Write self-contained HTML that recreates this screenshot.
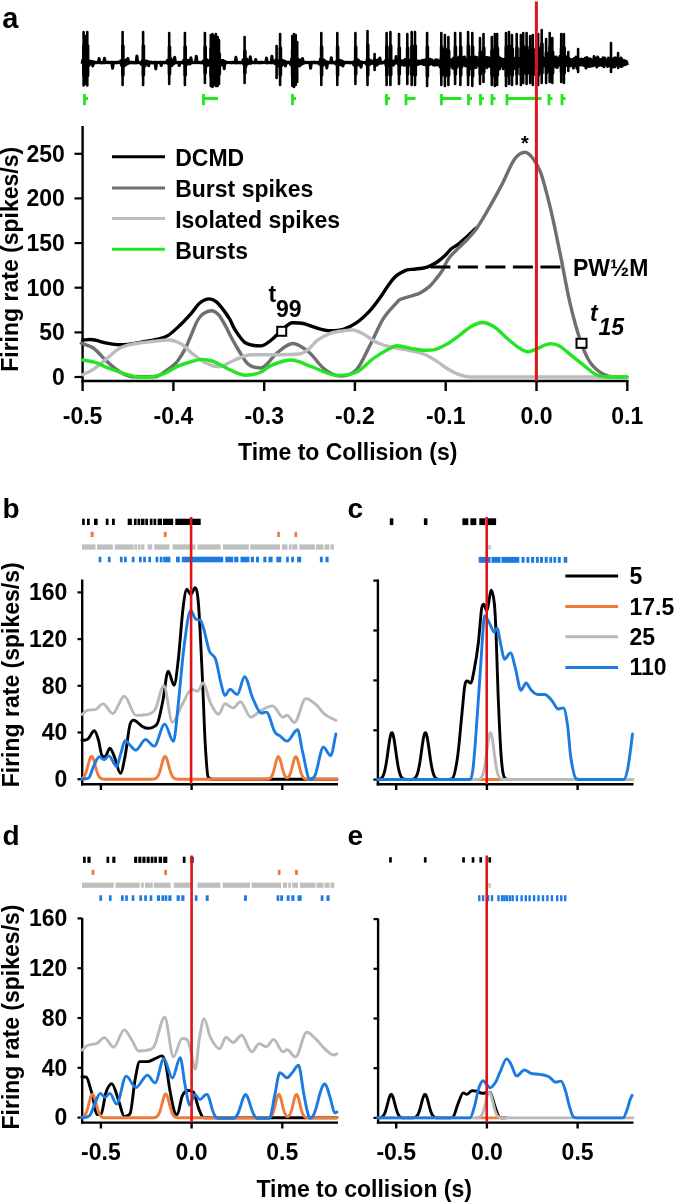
<!DOCTYPE html>
<html><head><meta charset="utf-8"><style>
html,body{margin:0;padding:0;background:#fff;}
svg{display:block;filter:blur(0.35px);}
text{font-family:"Liberation Sans",sans-serif;font-weight:bold;fill:#000;}
</style></head><body>
<svg width="675" height="1203" viewBox="0 0 675 1203">
<text x="2.2" y="27.6" font-size="29" text-anchor="start" >a</text>
<path d="M82,63.8 L82.9,59.7 L83.8,64.2 L84.7,59.4 L85.6,65.1 L86.5,60.8 L87.4,65.4 L88.3,60.8 L89.2,65.2 L90.1,61.1 L91,63.6 L91.9,61.3 L92.8,65.9 L93.7,61.8 L94.6,63.1 L95.5,62.2 L96.4,62.8 L97.3,62.1 L98.2,62.7 L99.1,58.5 L100,62.7 L100.9,62.3 L101.8,62.9 L102.7,62.3 L103.6,62.8 L104.5,58.2 L105.4,62.7 L106.3,62.3 L107.2,62.7 L108.1,62.1 L109,62.8 L109.9,62.3 L110.8,62.8 L111.7,62.2 L112.6,68.3 L113.5,62.3 L114.4,62.8 L115.3,62.2 L116.2,62.9 L117.1,62.1 L118,62.7 L118.9,62.1 L119.8,62.7 L120.7,60.9 L121.6,65.4 L122.5,60.6 L123.4,65.5 L124.3,60.9 L125.2,65.4 L126.1,60 L127,64 L127.9,58.4 L128.8,63.2 L129.7,62 L130.6,62.8 L131.5,62.1 L132.4,62.9 L133.3,62.2 L134.2,62.9 L135.1,62.3 L136,62.9 L136.9,56 L137.8,62.7 L138.7,62.2 L139.6,62.9 L140.5,62.3 L141.4,64.3 L142.3,60.9 L143.2,64.3 L144.1,60.8 L145,66.1 L145.9,61 L146.8,63.9 L147.7,61.4 L148.6,65.8 L149.5,61.9 L150.4,63.1 L151.3,62.1 L152.2,62.9 L153.1,62.3 L154,62.8 L154.9,62.2 L155.8,68.9 L156.7,62.3 L157.6,62.7 L158.5,62.3 L159.4,62.8 L160.3,62.2 L161.2,65.5 L162.1,62.2 L163,62.8 L163.9,62.1 L164.8,62.9 L165.7,62.2 L166.6,62.8 L167.5,60.4 L168.4,63.9 L169.3,58.5 L170.2,66.4 L171.1,58.6 L172,65.6 L172.9,60.9 L173.8,63.7 L174.7,57.3 L175.6,62.8 L176.5,62.2 L177.4,62.7 L178.3,62.2 L179.2,65.5 L180.1,62.3 L181,62.8 L181.9,62.3 L182.8,62.9 L183.7,60.1 L184.6,64.3 L185.5,60.2 L186.4,65 L187.3,60.2 L188.2,63.8 L189.1,60.5 L190,64 L190.9,57.8 L191.8,62.8 L192.7,62.2 L193.6,62.7 L194.5,62.1 L195.4,62.7 L196.3,56.2 L197.2,62.7 L198.1,62.2 L199,62.7 L199.9,62.2 L200.8,62.9 L201.7,62.1 L202.6,62.9 L203.5,60.9 L204.4,64.8 L205.3,60.5 L206.2,66.3 L207.1,59.7 L208,65.3 L208.9,61.1 L209.8,64.2 L210.7,58.9 L211.6,66.9 L212.5,58.6 L213.4,66.4 L214.3,58.7 L215.2,66.2 L216.1,60.4 L217,65.6 L217.9,60 L218.8,64.2 L219.7,60.9 L220.6,64.8 L221.5,60.5 L222.4,64.9 L223.3,60.4 L224.2,68.8 L225.1,61.6 L226,62.9 L226.9,62.2 L227.8,62.7 L228.7,62.3 L229.6,62.7 L230.5,62.2 L231.4,62.9 L232.3,62.1 L233.2,62.8 L234.1,62.2 L235,62.9 L235.9,57.2 L236.8,62.9 L237.7,62.1 L238.6,62.8 L239.5,62.3 L240.4,62.9 L241.3,62.2 L242.2,62.9 L243.1,59.7 L244,64.8 L244.9,59.8 L245.8,66.8 L246.7,59.1 L247.6,64.1 L248.5,61.4 L249.4,63.3 L250.3,56.7 L251.2,63.2 L252.1,61.9 L253,62.8 L253.9,62.2 L254.8,62.8 L255.7,59.5 L256.6,62.8 L257.5,62.2 L258.4,62.9 L259.3,62.2 L260.2,62.9 L261.1,62.1 L262,62.7 L262.9,62.3 L263.8,62.7 L264.7,62.3 L265.6,62.8 L266.5,58 L267.4,62.9 L268.3,62.2 L269.2,62.8 L270.1,62.2 L271,62.9 L271.9,56.3 L272.8,62.8 L273.7,62.2 L274.6,63.4 L275.5,60.4 L276.4,64.4 L277.3,60.9 L278.2,66.3 L279.1,60.7 L280,65.2 L280.9,58.8 L281.8,65.6 L282.7,60.4 L283.6,64.5 L284.5,61 L285.4,65.9 L286.3,62 L287.2,62.9 L288.1,62.1 L289,62.8 L289.9,62.2 L290.8,64.9 L291.7,59 L292.6,65.3 L293.5,59.1 L294.4,65.5 L295.3,59.4 L296.2,66 L297.1,59.6 L298,65.6 L298.9,59.6 L299.8,66.1 L300.7,60.2 L301.6,64.4 L302.5,58.6 L303.4,63.4 L304.3,61.9 L305.2,62.8 L306.1,62.3 L307,62.8 L307.9,62.3 L308.8,62.7 L309.7,62.3 L310.6,68.2 L311.5,62.3 L312.4,62.9 L313.3,62.1 L314.2,62.7 L315.1,62.1 L316,62.9 L316.9,62.3 L317.8,62.9 L318.7,62.2 L319.6,64.3 L320.5,59 L321.4,66.3 L322.3,60.5 L323.2,65.2 L324.1,60.1 L325,64 L325.9,61.6 L326.8,68 L327.7,61.9 L328.6,62.9 L329.5,62.3 L330.4,62.8 L331.3,57.7 L332.2,62.9 L333.1,62.1 L334,62.9 L334.9,62.3 L335.8,64 L336.7,61.1 L337.6,66.2 L338.5,60.1 L339.4,64.3 L340.3,60.4 L341.2,64.9 L342.1,61 L343,66 L343.9,61.9 L344.8,63 L345.7,62.3 L346.6,62.7 L347.5,62.1 L348.4,62.8 L349.3,62.3 L350.2,62.9 L351.1,62.2 L352,62.9 L352.9,62.3 L353.8,65 L354.7,61.1 L355.6,66.4 L356.5,59.6 L357.4,64.9 L358.3,60 L359.2,65 L360.1,61.6 L361,67.3 L361.9,62.1 L362.8,62.8 L363.7,62.3 L364.6,62.7 L365.5,62.3 L366.4,64.3 L367.3,59.1 L368.2,64.9 L369.1,59.5 L370,64.3 L370.9,60.8 L371.8,63.3 L372.7,61.2 L373.6,63.7 L374.5,59.1 L375.4,65.7 L376.3,60.4 L377.2,65 L378.1,59.7 L379,63.4 L379.9,58 L380.8,63.3 L381.7,62.1 L382.6,62.9 L383.5,62.1 L384.4,62.9 L385.3,60.7 L386.2,66 L387.1,58.9 L388,65.9 L388.9,60.1 L389.8,64.7 L390.7,60.8 L391.6,64.4 L392.5,60.9 L393.4,65.3 L394.3,61.2 L395.2,63.3 L396.1,56.6 L397,63.1 L397.9,60.7 L398.8,64.6 L399.7,60.1 L400.6,65.3 L401.5,60.8 L402.4,64.4 L403.3,60.9 L404.2,65.4 L405.1,59.6 L406,64.7 L406.9,60.5 L407.8,66.8 L408.7,60 L409.6,64.8 L410.5,61.4 L411.4,64.9 L412.3,59.6 L413.2,65.5 L414.1,60.6 L415,65.3 L415.9,60.9 L416.8,64.7 L417.7,61 L418.6,64.3 L419.5,61.4 L420.4,63.6 L421.3,60.9 L422.2,64 L423.1,60.3 L424,64.6 L424.9,60 L425.8,64.9 L426.7,59.3 L427.6,66.6 L428.5,59.8 L429.4,64.7 L430.3,59.3 L431.2,63.8 L432.1,60 L433,64.8 L433.9,61.4 L434.8,65.2 L435.7,59.7 L436.6,64.8 L437.5,60 L438.4,65.1 L439.3,61.2 L440.2,67 L441.1,58.1 L442,68.3 L442.9,56.8 L443.8,68.3 L444.7,57.8 L445.6,68.5 L446.5,57.3 L447.4,67.7 L448.3,59.3 L449.2,64.9 L450.1,59.7 L451,66.3 L451.9,59.8 L452.8,68.3 L453.7,57.9 L454.6,67.4 L455.5,57.6 L456.4,67.7 L457.3,58.2 L458.2,64.8 L459.1,56.9 L460,67.9 L460.9,58.1 L461.8,67 L462.7,57.4 L463.6,65.1 L464.5,57.1 L465.4,65.8 L466.3,59.9 L467.2,65.9 L468.1,57.1 L469,65.6 L469.9,57.1 L470.8,68.9 L471.7,58.1 L472.6,66.4 L473.5,58.2 L474.4,67.7 L475.3,57 L476.2,67.4 L477.1,57.5 L478,65.1 L478.9,59.6 L479.8,65.8 L480.7,57.1 L481.6,66.1 L482.5,57.8 L483.4,64.8 L484.3,60 L485.2,65.9 L486.1,57.4 L487,67.7 L487.9,57.4 L488.8,66 L489.7,58 L490.6,66.7 L491.5,58.3 L492.4,65.3 L493.3,56.4 L494.2,65.6 L495.1,56.1 L496,68.7 L496.9,60.2 L497.8,66.7 L498.7,56.8 L499.6,68.9 L500.5,58.3 L501.4,65.9 L502.3,59.3 L503.2,68.8 L504.1,59.3 L505,67.2 L505.9,59.6 L506.8,67 L507.7,56.2 L508.6,65.3 L509.5,56.8 L510.4,66.9 L511.3,56.5 L512.2,67.7 L513.1,59.2 L514,68.6 L514.9,58.2 L515.8,64.9 L516.7,60.2 L517.6,66.9 L518.5,58.3 L519.4,66.1 L520.3,59.6 L521.2,66.2 L522.1,58.9 L523,68.3 L523.9,60.2 L524.8,67.9 L525.7,56.7 L526.6,65.3 L527.5,56.3 L528.4,67.8 L529.3,56.4 L530.2,66 L531.1,58.7 L532,66.4 L532.9,56 L533.8,67.3 L534.7,58.7 L535.6,66.6 L536.5,59.1 L537.4,65 L538.3,59.8 L539.2,68.3 L540.1,59 L541,68.7 L541.9,59.2 L542.8,65.9 L543.7,58.1 L544.6,65.6 L545.5,58.6 L546.4,68.8 L547.3,56.5 L548.2,68.2 L549.1,57.6 L550,68.6 L550.9,56.3 L551.8,67.1 L552.7,57.2 L553.6,65 L554.5,57.1 L555.4,66.7 L556.3,57 L557.2,67.5 L558.1,59 L559,65 L559.9,56.3 L560.8,65.3 L561.7,58.2 L562.6,66.2 L563.5,59 L564.4,67.9 L565.3,56.1 L566.2,65.6 L567.1,57.8 L568,65.8 L568.9,58.2 L569.8,66.1 L570.7,59.7 L571.6,65.2 L572.5,59.6 L573.4,68.1 L574.3,58.5 L575.2,65.5 L576.1,56.9 L577,68.5 L577.9,58.6 L578.8,65.1 L579.7,59.6 L580.6,65 L581.5,59.1 L582.4,65 L583.3,59.5 L584.2,65.6 L585.1,58.2 L586,68.1 L586.9,57.5 L587.8,66.2 L588.7,58.8 L589.6,66.6 L590.5,58.9 L591.4,65.9 L592.3,60.2 L593.2,65.7 L594.1,56.6 L595,65.1 L595.9,58.4 L596.8,67.1 L597.7,57 L598.6,65.4 L599.5,59.3 L600.4,65 L601.3,59.6 L602.2,65.6 L603.1,57.8 L604,66.8 L604.9,58.1 L605.8,64.2 L606.7,60.7 L607.6,66.4 L608.5,58 L609.4,65.7 L610.3,59 L611.2,64.2 L612.1,59.6 L613,67.1 L613.9,58.2 L614.8,66.8 L615.7,57.8 L616.6,65 L617.5,60.5 L618.4,64.7 L619.3,59.2 L620.2,66.3 L621.1,57.9 L622,66.4 L622.9,60.2 L623.8,65 L624.7,60.6 L625.6,64.6 L626.5,61.4 L627.4,65.1" fill="none" stroke="#000" stroke-width="3.0" stroke-linejoin="round"/>
<path d="M83.6,32V85.5M85.3,36V84M87.3,32V85.5M122.6,32V85M143.1,32V85M169.2,33V84M184.9,33V85M204.9,33V83M210.8,35V86M212.5,34V87M214.2,36V85M215.9,34V86M217.6,37V86M219,40V84M244.6,37V83M276.6,46V78M280.1,34V85M292.3,36V86M294,34V87M295.7,35V85M297.2,42V82M321.3,33V85M337.3,33V85M355.4,33V84M367.5,31V85M374.6,54V70M386.6,33V85M390.4,32V85M399,34V84M407.3,34V84M411.7,32V85M415,32V85M427.1,33V86M441.3,33V85M444.9,35V86M448.4,37V85M455.1,33V84M460.4,33V85M468.1,32V85M472.3,33V86M480,38V84M483.5,34V82M491.8,37V85M494.8,34V86M497.1,34V85M506,33V86M509,32V84M512,35V85M516.7,34V84M520.9,35V85M523.2,33V83M526.6,33V84M530.1,36V83M532.8,35V85M538.1,34V85M541.7,30V83M546.1,39V83M549.7,33V82M552.3,38V83M561.2,34V82M563.9,34V83M568.3,52V71M578.1,49V72M611,43V72M618.1,53V68" stroke="#000" stroke-width="2.6" stroke-linecap="round"/>
<path d="M83.9,46V75.5M85.6,50V74M87.6,46V75.5M122.9,46V75M143.4,46V75M169.5,47V74M185.2,47V75M205.2,47V73M211.1,49V76M212.8,48V77M214.5,50V75M216.2,48V76M217.9,51V76M219.3,54V74M244.9,51V73M280.4,48V75M292.6,50V76M294.3,48V77M296,49V75M321.6,47V75M337.6,47V75M355.7,47V74M367.8,45V75M386.9,47V75M390.7,46V75M399.3,48V74M407.6,48V74M412,46V75M415.3,46V75M427.4,47V76M441.6,47V75M445.2,49V76M448.7,51V75M455.4,47V74M460.7,47V75M468.4,46V75M472.6,47V76M480.3,52V74M483.8,48V72M492.1,51V75M495.1,48V76M497.4,48V75M506.3,47V76M509.3,46V74M512.3,49V75M517,48V74M521.2,49V75M523.5,47V73M526.9,47V74M530.4,50V73M533.1,49V75M538.4,48V75M542,44V73M546.4,53V73M550,47V72M552.6,52V73M561.5,48V72M564.2,48V73" stroke="#000" stroke-width="3.6" stroke-linecap="round"/>
<path d="M84.5,94V105.3M84.5,98.5H88M203.5,94V105.3M203.5,98.5H218M292.5,94V105.3M292.5,98.5H296M386.5,94V105.3M386.5,98.5H390M406,94V105.3M406,98.5H415.5M441.5,94V105.3M441.5,98.5H461.5M468.5,94V105.3M468.5,98.5H472M480.5,94V105.3M480.5,98.5H484M492,94V105.3M492,98.5H495.5M507,94V105.3M507,98.5H541.5M549,94V105.3M549,98.5H552.5M562,94V105.3M562,98.5H565.5" stroke="#22e622" stroke-width="2.8" fill="none"/>
<line x1="82.6" y1="126" x2="82.6" y2="382.2" stroke="#000" stroke-width="2.4" />
<line x1="81.4" y1="381" x2="628.5" y2="381" stroke="#000" stroke-width="2.4" />
<line x1="74.5" y1="377" x2="82.6" y2="377" stroke="#000" stroke-width="2.2" />
<text x="64.8" y="385" font-size="23" text-anchor="end" >0</text>
<line x1="74.5" y1="332.4" x2="82.6" y2="332.4" stroke="#000" stroke-width="2.2" />
<text x="64.8" y="340.4" font-size="23" text-anchor="end" >50</text>
<line x1="74.5" y1="287.7" x2="82.6" y2="287.7" stroke="#000" stroke-width="2.2" />
<text x="64.8" y="295.7" font-size="23" text-anchor="end" >100</text>
<line x1="74.5" y1="243.1" x2="82.6" y2="243.1" stroke="#000" stroke-width="2.2" />
<text x="64.8" y="251.1" font-size="23" text-anchor="end" >150</text>
<line x1="74.5" y1="198.4" x2="82.6" y2="198.4" stroke="#000" stroke-width="2.2" />
<text x="64.8" y="206.4" font-size="23" text-anchor="end" >200</text>
<line x1="74.5" y1="153.8" x2="82.6" y2="153.8" stroke="#000" stroke-width="2.2" />
<text x="64.8" y="161.8" font-size="23" text-anchor="end" >250</text>
<line x1="82.6" y1="381" x2="82.6" y2="391" stroke="#000" stroke-width="2.4" />
<text x="82.6" y="424" font-size="23" text-anchor="middle" >-0.5</text>
<line x1="173.4" y1="381" x2="173.4" y2="391" stroke="#000" stroke-width="2.4" />
<text x="173.4" y="424" font-size="23" text-anchor="middle" >-0.4</text>
<line x1="264.2" y1="381" x2="264.2" y2="391" stroke="#000" stroke-width="2.4" />
<text x="264.2" y="424" font-size="23" text-anchor="middle" >-0.3</text>
<line x1="354.9" y1="381" x2="354.9" y2="391" stroke="#000" stroke-width="2.4" />
<text x="354.9" y="424" font-size="23" text-anchor="middle" >-0.2</text>
<line x1="445.7" y1="381" x2="445.7" y2="391" stroke="#000" stroke-width="2.4" />
<text x="445.7" y="424" font-size="23" text-anchor="middle" >-0.1</text>
<line x1="536.5" y1="381" x2="536.5" y2="391" stroke="#000" stroke-width="2.4" />
<text x="536.5" y="424" font-size="23" text-anchor="middle" >0.0</text>
<line x1="627.3" y1="381" x2="627.3" y2="391" stroke="#000" stroke-width="2.4" />
<text x="627.3" y="424" font-size="23" text-anchor="middle" >0.1</text>
<text x="347.7" y="460" font-size="23" text-anchor="middle" >Time to Collision (s)</text>
<text x="0" y="0" font-size="23" text-anchor="middle" transform="translate(18.0,259.3) rotate(-90)">Firing rate (spikes/s)</text>
<line x1="112" y1="156.7" x2="165" y2="156.7" stroke="#000" stroke-width="3.0" />
<text x="175.2" y="165.9" font-size="23" text-anchor="start" >DCMD</text>
<line x1="112" y1="188.1" x2="165" y2="188.1" stroke="#6f6f6f" stroke-width="3.0" />
<text x="175.2" y="197.3" font-size="23" text-anchor="start" >Burst spikes</text>
<line x1="112" y1="218.5" x2="165" y2="218.5" stroke="#bcbcbc" stroke-width="3.0" />
<text x="175.2" y="227.7" font-size="23" text-anchor="start" >Isolated spikes</text>
<line x1="112" y1="249.3" x2="165" y2="249.3" stroke="#22e622" stroke-width="3.0" />
<text x="175.2" y="258.5" font-size="23" text-anchor="start" >Bursts</text>
<path d="M82.7,340C85.4,339.8 88,339.5 90.7,339.5C96,339.5 101.4,342.2 106.7,343.2C111.1,344 115.6,344.8 120,344.8C128.9,344.8 137.8,342.6 146.7,341.3C150.2,340.8 153.6,340.1 157.1,339.2C160.7,338.2 164.2,337.8 167.8,335.6C171.7,333.2 175.7,329.3 179.6,325.6C183.6,321.8 187.5,317.5 191.5,313.1C194.3,310 197,305.2 199.8,303C203,300.5 206.1,298.9 209.3,298.9C211.7,298.9 214,300 216.4,301.9C218.8,303.8 221.1,307 223.5,310.1C225.7,312.9 227.8,315.9 230,319.6C231.6,322.3 233.1,326.9 234.7,329.3C238.2,334.6 241.8,340.5 245.3,342.7C250.4,345.9 255.6,345.9 260.7,345.9C264.2,345.9 267.8,342.7 271.3,340C274.9,337.3 278.4,332.8 282,329.9C285.6,327 289.1,322.7 292.7,322.7C296.2,322.7 299.8,322.7 303.3,323.5C307.8,324.5 312.2,326.8 316.7,328C321.1,329.2 325.6,330.7 330,330.7C334.4,330.7 338.9,330.6 343.3,329.3C347.8,328 352.2,325.8 356.7,322.7C361.1,319.6 365.6,315.4 370,310.7C373.3,307.1 376.7,302.4 380,297.8C383,293.7 385.9,288.5 388.9,284.4C390.9,281.6 393,279 395,277C396.7,275.3 398.3,274.3 400,273.3C402.4,271.9 404.7,270.4 407.1,269.8C409.5,269.2 411.8,269.5 414.2,269.2C417.4,268.9 420.5,268.7 423.7,268C426.1,267.5 428.4,266.7 430.8,265.6C433.2,264.5 435.5,263.2 437.9,261.5C440.3,259.8 442.6,257.9 445,255.6C447,253.7 449,250.7 451,249C453.4,247 455.7,246.1 458.1,244.3C460.9,242.2 463.6,239.7 466.4,237.2C469.6,234.4 472.7,231.3 475.9,228.3" fill="none" stroke="#000" stroke-width="3.4" stroke-linejoin="round" stroke-linecap="round" />
<path d="M81.3,343.2C85.3,344.8 89.3,345.1 93.3,348C97.8,351.2 102.2,357.3 106.7,361.3C111.1,365.3 115.6,369.4 120,372C124.4,374.6 128.9,376.8 133.3,376.8C140.4,376.8 147.6,376.8 154.7,376.8C159.1,376.8 163.6,372.2 168,369.3C170.7,367.6 173.3,365.7 176,363C177.7,361.3 179.3,358.6 181,356C182.5,353.6 184.1,351.1 185.6,348C187.4,344.3 189.2,339.6 191,335.5C193.1,330.6 195.3,324.6 197.4,320.8C199.4,317.3 201.3,315.1 203.3,313.7C206.1,311.7 208.8,310.7 211.6,310.7C214,310.7 216.3,312.3 218.7,314.9C221.1,317.6 223.5,322.4 225.9,326.7C227.3,329.1 228.6,332.4 230,335C232.4,339.5 234.9,344.1 237.3,348C240.9,353.7 244.4,361 248,364C252.2,367.6 256.5,368 260.7,368C266,368 271.4,357.4 276.7,353.3C282,349.2 287.4,343.5 292.7,343.5C298,343.5 303.4,347.7 308.7,352C314,356.3 319.4,365.3 324.7,369.3C330,373.3 335.4,376 340.7,376C346,376 351.4,374.9 356.7,369.3C361.1,364.7 365.6,353.7 370,345.3C374.4,336.9 378.9,325.8 383.3,318.7C387.8,311.6 392.2,307.8 396.7,302.7C397.8,301.4 398.9,300 400,299.5C404,297.7 407.9,297.2 411.9,295.9C414.6,295 417.4,294.4 420.1,292.9C423.3,291.2 426.4,289.2 429.6,286.4C432,284.3 434.3,281.1 436.7,278.1C438.7,275.6 440.7,273.1 442.7,269.8C444.3,267.2 445.8,262.9 447.4,260.3C449,257.7 450.5,256.1 452.1,254.4C454.5,251.8 456.9,249.7 459.3,247.3C462.1,244.6 464.8,242 467.6,239C470.4,236 473.1,233.3 475.9,229.5C479,225.2 482.1,220 485.2,214.7C490.6,205.3 496.1,195.7 501.5,185.4C505.8,177.2 510.2,165.4 514.5,159.3C518,154.4 521.5,152.2 525,152.2C527.5,152.2 529.9,154.5 532.4,157.7C535.1,161.2 537.9,164.7 540.6,172.4C543.9,181.6 547.1,194.6 550.4,208.2C553.7,221.8 556.9,238.1 560.2,253.9C563.4,269.6 566.7,288.7 569.9,302.7C573.2,316.9 576.4,328.8 579.7,338.6C583,348.4 586.2,356.4 589.5,361.4C593.8,368.1 598.2,371.2 602.5,373.8C606.9,376.4 611.2,377 615.6,377C619.4,377 623.2,377 627,377" fill="none" stroke="#6f6f6f" stroke-width="3.4" stroke-linejoin="round" stroke-linecap="round" />
<path d="M82.7,374.7C86.2,372.9 89.8,371.7 93.3,369.3C97.8,366.3 102.2,362.3 106.7,358.7C111.1,355.2 115.6,350.4 120,348C124.4,345.6 128.9,344.9 133.3,344C140.4,342.6 147.6,342.1 154.7,341.3C159.1,340.8 163.6,340 168,340C172.4,340 176.9,341.5 181.3,344C184.9,346 188.4,350.5 192,353.3C196.4,356.8 200.9,360.5 205.3,362.7C209.8,364.9 214.2,366.7 218.7,366.7C224,366.7 229.4,362 234.7,360C240,358 245.4,354.7 250.7,354.7C259.4,354.7 268,354.7 276.7,354.7C284.1,354.7 291.6,354.7 299,354C302,353.7 305.1,351.8 308.1,349.6C311.1,347.4 314,342.9 317,340.7C321.3,337.5 325.7,335 330,333.5C335.6,331.6 341.1,331.3 346.7,330.4C348.7,330.1 350.6,330 352.6,330C356.6,330 360.7,332.6 364.7,334.7C367.6,336.2 370.4,339.2 373.3,340.7C377.2,342.8 381.1,344.3 385,345.5C389,346.7 393,347.2 397,348C401.3,348.9 405.7,349.5 410,350.5C414.6,351.5 419.1,352.2 423.7,354C427.6,355.5 431.6,358 435.5,360.4C439.5,362.9 443.4,366.3 447.4,368.7C451.3,371.1 455.3,373.2 459.2,374.6C463.2,376 467.1,377 471.1,377C523.1,377 575,377 627,377" fill="none" stroke="#bcbcbc" stroke-width="3.4" stroke-linejoin="round" stroke-linecap="round" />
<path d="M82.7,360C87.1,360.9 91.6,361.3 96,362.7C100,364 104,366.4 108,368C111.8,369.5 115.5,370.7 119.3,371.9C124.2,373.5 129.1,375.3 134,376.3C138,377.1 142,377.2 146,377.2C150.9,377.2 155.8,376.2 160.7,374.8C163.8,373.9 166.9,372.1 170,370.5C172.8,369.1 175.7,367.1 178.5,365.9C183,364.1 187.5,362.7 192,361.5C195.4,360.6 198.8,359.4 202.2,359.4C205.5,359.4 208.7,360.1 212,361C214.2,361.6 216.5,362.9 218.7,364C224,366.6 229.4,369.8 234.7,372C238.2,373.5 241.8,375.2 245.3,375.2C250.2,375.2 255.1,374.4 260,372.5C263.8,371.1 267.5,366.8 271.3,365.3C278,362.6 284.6,360 291.3,360C298,360 304.6,364.5 311.3,366.7C320.1,369.6 329,375.4 337.8,375.4C344.1,375.4 350.4,375 356.7,372C362.2,369.4 367.8,362.5 373.3,358.5C377.9,355.2 382.4,352.4 387,350C390.3,348.2 393.7,345.8 397,345.8C401.9,345.8 406.9,347.8 411.8,348.6C415.8,349.3 419.7,350.2 423.7,350.2C427.6,350.2 431.6,350.2 435.5,349.3C439.5,348.4 443.4,346.1 447.4,343.8C451.3,341.5 455.3,338.4 459.2,335.5C463.2,332.6 467.1,328.7 471.1,326.5C475,324.3 479,322.5 482.9,322.5C486.9,322.5 490.8,324.7 494.8,327.3C498.7,329.9 502.7,334.6 506.6,337.9C510.6,341.3 514.5,344.8 518.5,347.4C521.7,349.4 524.8,351.7 528,351.7C531.1,351.7 534.3,349.8 537.4,348.6C539.9,347.6 542.5,345.9 545,345C547.2,344.3 549.5,343.8 551.7,343.8C554.5,343.8 557.2,344.8 560,346.2C562.2,347.4 564.5,349.8 566.7,351.6C572.1,356 577.6,360.5 583,364.7C587.3,368.1 591.7,372.4 596,374.5C600.3,376.6 604.7,377 609,377C615,377 621,377 627,377" fill="none" stroke="#22e622" stroke-width="3.4" stroke-linejoin="round" stroke-linecap="round" />
<line x1="430.4" y1="267" x2="562" y2="267" stroke="#000" stroke-width="3.0" stroke-dasharray="20 7.5"/>
<text x="573" y="275.5" font-size="23" text-anchor="start" >PW½M</text>
<text x="525" y="150" font-size="20" text-anchor="middle" >*</text>
<rect x="277.2" y="326.8" width="9" height="9" fill="#fff" stroke="#000" stroke-width="2"/>
<rect x="576.5" y="338.8" width="10" height="9" fill="#fff" stroke="#000" stroke-width="2"/>
<text x="268.5" y="301.5" font-size="23" text-anchor="start" >t</text>
<text x="276" y="317" font-size="23" text-anchor="start" >99</text>
<text x="590" y="320.5" font-size="23" text-anchor="start" font-style="italic">t</text>
<text x="598.5" y="335" font-size="23" text-anchor="start" font-style="italic">15</text>
<line x1="536.4" y1="1.5" x2="536.4" y2="381" stroke="#e0151a" stroke-width="3.0" />
<text x="2.5" y="518.2" font-size="28" text-anchor="start" >b</text>
<text x="347.5" y="518.2" font-size="28" text-anchor="start" >c</text>
<text x="2.5" y="844.7" font-size="28" text-anchor="start" >d</text>
<text x="347.5" y="844.7" font-size="28" text-anchor="start" >e</text>
<line x1="82.2" y1="579.5" x2="82.2" y2="785.5" stroke="#000" stroke-width="2.4" />
<line x1="81" y1="784.3" x2="338" y2="784.3" stroke="#000" stroke-width="2.4" />
<line x1="77.5" y1="779.2" x2="82.2" y2="779.2" stroke="#000" stroke-width="2.2" />
<text x="67.3" y="787" font-size="23" text-anchor="end" >0</text>
<line x1="77.5" y1="732.5" x2="82.2" y2="732.5" stroke="#000" stroke-width="2.2" />
<text x="67.3" y="740.3" font-size="23" text-anchor="end" >40</text>
<line x1="77.5" y1="685.8" x2="82.2" y2="685.8" stroke="#000" stroke-width="2.2" />
<text x="67.3" y="693.6" font-size="23" text-anchor="end" >80</text>
<line x1="77.5" y1="639.1" x2="82.2" y2="639.1" stroke="#000" stroke-width="2.2" />
<text x="67.3" y="646.9" font-size="23" text-anchor="end" >120</text>
<line x1="77.5" y1="592.4" x2="82.2" y2="592.4" stroke="#000" stroke-width="2.2" />
<text x="67.3" y="600.2" font-size="23" text-anchor="end" >160</text>
<line x1="100.9" y1="784.3" x2="100.9" y2="790" stroke="#000" stroke-width="2.4" />
<line x1="191.6" y1="784.3" x2="191.6" y2="790" stroke="#000" stroke-width="2.4" />
<line x1="282.3" y1="784.3" x2="282.3" y2="790" stroke="#000" stroke-width="2.4" />
<text x="0" y="0" font-size="23" text-anchor="middle" transform="translate(18.9,674.8) rotate(-90)">Firing rate (spikes/s)</text>
<line x1="377.9" y1="579.5" x2="377.9" y2="785.5" stroke="#000" stroke-width="2.4" />
<line x1="376.7" y1="784.3" x2="633.5" y2="784.3" stroke="#000" stroke-width="2.4" />
<line x1="373.3" y1="580.6" x2="377.9" y2="580.6" stroke="#000" stroke-width="2.2" />
<line x1="373.3" y1="630.5" x2="377.9" y2="630.5" stroke="#000" stroke-width="2.2" />
<line x1="373.3" y1="680.4" x2="377.9" y2="680.4" stroke="#000" stroke-width="2.2" />
<line x1="373.3" y1="730.3" x2="377.9" y2="730.3" stroke="#000" stroke-width="2.2" />
<line x1="373.3" y1="779.6" x2="377.9" y2="779.6" stroke="#000" stroke-width="2.2" />
<line x1="396.2" y1="784.3" x2="396.2" y2="790" stroke="#000" stroke-width="2.4" />
<line x1="486.9" y1="784.3" x2="486.9" y2="790" stroke="#000" stroke-width="2.4" />
<line x1="577.6" y1="784.3" x2="577.6" y2="790" stroke="#000" stroke-width="2.4" />
<line x1="82.2" y1="918" x2="82.2" y2="1123.7" stroke="#000" stroke-width="2.4" />
<line x1="81" y1="1122.6" x2="338" y2="1122.6" stroke="#000" stroke-width="2.4" />
<line x1="77.5" y1="1117.6" x2="82.2" y2="1117.6" stroke="#000" stroke-width="2.2" />
<text x="67.3" y="1125.4" font-size="23" text-anchor="end" >0</text>
<line x1="77.5" y1="1067.8" x2="82.2" y2="1067.8" stroke="#000" stroke-width="2.2" />
<text x="67.3" y="1075.6" font-size="23" text-anchor="end" >40</text>
<line x1="77.5" y1="1018" x2="82.2" y2="1018" stroke="#000" stroke-width="2.2" />
<text x="67.3" y="1025.8" font-size="23" text-anchor="end" >80</text>
<line x1="77.5" y1="968.2" x2="82.2" y2="968.2" stroke="#000" stroke-width="2.2" />
<text x="67.3" y="976" font-size="23" text-anchor="end" >120</text>
<line x1="77.5" y1="918.4" x2="82.2" y2="918.4" stroke="#000" stroke-width="2.2" />
<text x="67.3" y="926.2" font-size="23" text-anchor="end" >160</text>
<line x1="100.9" y1="1122.6" x2="100.9" y2="1128.5" stroke="#000" stroke-width="2.4" />
<text x="100.9" y="1159.6" font-size="23" text-anchor="middle" >-0.5</text>
<line x1="191.6" y1="1122.6" x2="191.6" y2="1128.5" stroke="#000" stroke-width="2.4" />
<text x="191.6" y="1159.6" font-size="23" text-anchor="middle" >0.0</text>
<line x1="282.3" y1="1122.6" x2="282.3" y2="1128.5" stroke="#000" stroke-width="2.4" />
<text x="282.3" y="1159.6" font-size="23" text-anchor="middle" >0.5</text>
<text x="0" y="0" font-size="23" text-anchor="middle" transform="translate(19.1,1017) rotate(-90)">Firing rate (spikes/s)</text>
<line x1="378.1" y1="918.5" x2="378.1" y2="1123.7" stroke="#000" stroke-width="2.4" />
<line x1="376.9" y1="1122.6" x2="633.5" y2="1122.6" stroke="#000" stroke-width="2.4" />
<line x1="373.5" y1="919.1" x2="378.1" y2="919.1" stroke="#000" stroke-width="2.2" />
<line x1="373.5" y1="968.8" x2="378.1" y2="968.8" stroke="#000" stroke-width="2.2" />
<line x1="373.5" y1="1018.5" x2="378.1" y2="1018.5" stroke="#000" stroke-width="2.2" />
<line x1="373.5" y1="1068.2" x2="378.1" y2="1068.2" stroke="#000" stroke-width="2.2" />
<line x1="373.5" y1="1117.9" x2="378.1" y2="1117.9" stroke="#000" stroke-width="2.2" />
<line x1="396.2" y1="1122.6" x2="396.2" y2="1128.5" stroke="#000" stroke-width="2.4" />
<text x="396.2" y="1159.6" font-size="23" text-anchor="middle" >-0.5</text>
<line x1="486.9" y1="1122.6" x2="486.9" y2="1128.5" stroke="#000" stroke-width="2.4" />
<text x="486.9" y="1159.6" font-size="23" text-anchor="middle" >0.0</text>
<line x1="577.6" y1="1122.6" x2="577.6" y2="1128.5" stroke="#000" stroke-width="2.4" />
<text x="577.6" y="1159.6" font-size="23" text-anchor="middle" >0.5</text>
<text x="364.2" y="1197.4" font-size="23" text-anchor="middle" >Time to collision (s)</text>
<line x1="565.3" y1="576" x2="618.1" y2="576" stroke="#000" stroke-width="3.0" />
<text x="629.5" y="584" font-size="23" text-anchor="start" >5</text>
<line x1="565.3" y1="606.6" x2="618.1" y2="606.6" stroke="#f07a3c" stroke-width="3.0" />
<text x="629.5" y="614.6" font-size="23" text-anchor="start" >17.5</text>
<line x1="565.3" y1="636.8" x2="618.1" y2="636.8" stroke="#b9b9b9" stroke-width="3.0" />
<text x="629.5" y="644.8" font-size="23" text-anchor="start" >25</text>
<line x1="565.3" y1="667.4" x2="618.1" y2="667.4" stroke="#1b7be0" stroke-width="3.0" />
<text x="629.5" y="675.4" font-size="23" text-anchor="start" >110</text>
<rect x="82.1" y="518.7" width="2.7" height="6.3" fill="#000"/><rect x="87" y="518.7" width="2.7" height="6.3" fill="#000"/><rect x="94" y="518.7" width="3.6" height="6.3" fill="#000"/><rect x="105.8" y="518.7" width="2.7" height="6.3" fill="#000"/><rect x="112" y="518.7" width="2.8" height="6.3" fill="#000"/><rect x="127.7" y="518.7" width="4.2" height="6.3" fill="#000"/><rect x="133.9" y="518.7" width="2.7" height="6.3" fill="#000"/><rect x="137.5" y="518.7" width="2.7" height="6.3" fill="#000"/><rect x="141" y="518.7" width="3.5" height="6.3" fill="#000"/><rect x="145.3" y="518.7" width="2.7" height="6.3" fill="#000"/><rect x="149.8" y="518.7" width="2.7" height="6.3" fill="#000"/><rect x="153.5" y="518.7" width="2.7" height="6.3" fill="#000"/><rect x="157.6" y="518.7" width="4.4" height="6.3" fill="#000"/><rect x="163" y="518.7" width="10.2" height="6.3" fill="#000"/><rect x="175.3" y="518.7" width="25.4" height="6.3" fill="#000"/>
<rect x="90.6" y="531.8" width="3.1" height="5.2" fill="#f07a3c"/><rect x="163.8" y="531.8" width="2.9" height="5.2" fill="#f07a3c"/><rect x="277.2" y="531.8" width="2.7" height="5.2" fill="#f07a3c"/><rect x="294.5" y="531.8" width="2.7" height="5.2" fill="#f07a3c"/>
<rect x="82" y="544.4" width="13.5" height="5.2" fill="#bfbfbf"/><rect x="97" y="544.4" width="15.8" height="5.2" fill="#bfbfbf"/><rect x="114.7" y="544.4" width="18.9" height="5.2" fill="#bfbfbf"/><rect x="134.4" y="544.4" width="2.7" height="5.2" fill="#bfbfbf"/><rect x="137.8" y="544.4" width="2.7" height="5.2" fill="#bfbfbf"/><rect x="141.2" y="544.4" width="3.3" height="5.2" fill="#bfbfbf"/><rect x="147.5" y="544.4" width="4.7" height="5.2" fill="#bfbfbf"/><rect x="154.2" y="544.4" width="15.3" height="5.2" fill="#bfbfbf"/><rect x="172.5" y="544.4" width="23" height="5.2" fill="#bfbfbf"/><rect x="197.5" y="544.4" width="23.2" height="5.2" fill="#bfbfbf"/><rect x="222.9" y="544.4" width="25.9" height="5.2" fill="#bfbfbf"/><rect x="250.3" y="544.4" width="29.7" height="5.2" fill="#bfbfbf"/><rect x="282" y="544.4" width="5.5" height="5.2" fill="#bfbfbf"/><rect x="288.8" y="544.4" width="2.7" height="5.2" fill="#bfbfbf"/><rect x="292.2" y="544.4" width="5.2" height="5.2" fill="#bfbfbf"/><rect x="299.3" y="544.4" width="15.7" height="5.2" fill="#bfbfbf"/><rect x="316" y="544.4" width="7.5" height="5.2" fill="#bfbfbf"/><rect x="324.5" y="544.4" width="5" height="5.2" fill="#bfbfbf"/><rect x="330.5" y="544.4" width="3.5" height="5.2" fill="#bfbfbf"/>
<rect x="98.6" y="556.7" width="2.7" height="5.6" fill="#1b7be0"/><rect x="107.9" y="556.7" width="2.7" height="5.6" fill="#1b7be0"/><rect x="119.9" y="556.7" width="2.7" height="5.6" fill="#1b7be0"/><rect x="124.1" y="556.7" width="2.7" height="5.6" fill="#1b7be0"/><rect x="131.8" y="556.7" width="2.7" height="5.6" fill="#1b7be0"/><rect x="139" y="556.7" width="2.7" height="5.6" fill="#1b7be0"/><rect x="143.2" y="556.7" width="2.7" height="5.6" fill="#1b7be0"/><rect x="148.3" y="556.7" width="2.7" height="5.6" fill="#1b7be0"/><rect x="155.6" y="556.7" width="2.7" height="5.6" fill="#1b7be0"/><rect x="159.8" y="556.7" width="2.7" height="5.6" fill="#1b7be0"/><rect x="163.2" y="556.7" width="7.2" height="5.6" fill="#1b7be0"/><rect x="176" y="556.7" width="3.8" height="5.6" fill="#1b7be0"/><rect x="181.8" y="556.7" width="41.4" height="5.6" fill="#1b7be0"/><rect x="225.3" y="556.7" width="7.9" height="5.6" fill="#1b7be0"/><rect x="234.2" y="556.7" width="4.2" height="5.6" fill="#1b7be0"/><rect x="240.5" y="556.7" width="8.9" height="5.6" fill="#1b7be0"/><rect x="250.8" y="556.7" width="3.2" height="5.6" fill="#1b7be0"/><rect x="256" y="556.7" width="3" height="5.6" fill="#1b7be0"/><rect x="263.3" y="556.7" width="3.1" height="5.6" fill="#1b7be0"/><rect x="268.5" y="556.7" width="4.1" height="5.6" fill="#1b7be0"/><rect x="276.3" y="556.7" width="5" height="5.6" fill="#1b7be0"/><rect x="286.1" y="556.7" width="2.7" height="5.6" fill="#1b7be0"/><rect x="291.2" y="556.7" width="2.7" height="5.6" fill="#1b7be0"/><rect x="297.1" y="556.7" width="4.1" height="5.6" fill="#1b7be0"/><rect x="319.9" y="556.7" width="2.9" height="5.6" fill="#1b7be0"/><rect x="325.5" y="556.7" width="3.1" height="5.6" fill="#1b7be0"/>
<rect x="389.8" y="518.3" width="3.5" height="6.8" fill="#000"/><rect x="423.9" y="518.3" width="3.5" height="6.8" fill="#000"/><rect x="462.4" y="518.3" width="5.9" height="6.8" fill="#000"/><rect x="470.4" y="518.3" width="5.9" height="6.8" fill="#000"/><rect x="479.3" y="518.3" width="5.9" height="6.8" fill="#000"/><rect x="486.7" y="518.3" width="9.4" height="6.8" fill="#000"/>
<rect x="488.1" y="545" width="3" height="4.4" fill="#c8c8c8"/>
<rect x="478.7" y="556.9" width="11.8" height="5.9" fill="#1b7be0"/><rect x="491.5" y="556.9" width="9" height="5.9" fill="#1b7be0"/><rect x="501.5" y="556.9" width="17.8" height="5.9" fill="#1b7be0"/><rect x="521.6" y="556.9" width="3" height="5.9" fill="#1b7be0"/><rect x="526.4" y="556.9" width="2.9" height="5.9" fill="#1b7be0"/><rect x="531.1" y="556.9" width="3" height="5.9" fill="#1b7be0"/><rect x="535.9" y="556.9" width="2.9" height="5.9" fill="#1b7be0"/><rect x="540" y="556.9" width="3" height="5.9" fill="#1b7be0"/><rect x="544.7" y="556.9" width="3" height="5.9" fill="#1b7be0"/><rect x="549.4" y="556.9" width="2.7" height="5.9" fill="#1b7be0"/><rect x="553.4" y="556.9" width="2.7" height="5.9" fill="#1b7be0"/><rect x="557.8" y="556.9" width="2.9" height="5.9" fill="#1b7be0"/><rect x="563.7" y="556.9" width="3.6" height="5.9" fill="#1b7be0"/>
<rect x="83" y="856.7" width="2.7" height="6.2" fill="#000"/><rect x="87.4" y="856.7" width="3.2" height="6.2" fill="#000"/><rect x="106.5" y="856.7" width="2.7" height="6.2" fill="#000"/><rect x="112.3" y="856.7" width="3.1" height="6.2" fill="#000"/><rect x="134.1" y="856.7" width="3.1" height="6.2" fill="#000"/><rect x="138.3" y="856.7" width="3.1" height="6.2" fill="#000"/><rect x="142.4" y="856.7" width="3.1" height="6.2" fill="#000"/><rect x="146.6" y="856.7" width="3.1" height="6.2" fill="#000"/><rect x="150.7" y="856.7" width="2.7" height="6.2" fill="#000"/><rect x="154.2" y="856.7" width="2.7" height="6.2" fill="#000"/><rect x="158.6" y="856.7" width="3.5" height="6.2" fill="#000"/><rect x="163.2" y="856.7" width="4.1" height="6.2" fill="#000"/><rect x="182.8" y="856.7" width="2.7" height="6.2" fill="#000"/><rect x="190.3" y="856.7" width="3.3" height="6.2" fill="#000"/>
<rect x="91.7" y="869.8" width="2.7" height="5.2" fill="#f07a3c"/><rect x="164.3" y="869.8" width="2.7" height="5.2" fill="#f07a3c"/><rect x="277.8" y="869.8" width="2.7" height="5.2" fill="#f07a3c"/><rect x="295" y="869.8" width="2.9" height="5.2" fill="#f07a3c"/>
<rect x="82" y="882.6" width="31.7" height="5.2" fill="#bfbfbf"/><rect x="115.5" y="882.6" width="24.2" height="5.2" fill="#bfbfbf"/><rect x="141.1" y="882.6" width="2.7" height="5.2" fill="#bfbfbf"/><rect x="145" y="882.6" width="4.9" height="5.2" fill="#bfbfbf"/><rect x="150" y="882.6" width="2.7" height="5.2" fill="#bfbfbf"/><rect x="153.7" y="882.6" width="17" height="5.2" fill="#bfbfbf"/><rect x="173.7" y="882.6" width="19.2" height="5.2" fill="#bfbfbf"/><rect x="197.4" y="882.6" width="22.9" height="5.2" fill="#bfbfbf"/><rect x="222.8" y="882.6" width="27.2" height="5.2" fill="#bfbfbf"/><rect x="251.6" y="882.6" width="29.4" height="5.2" fill="#bfbfbf"/><rect x="283" y="882.6" width="4.1" height="5.2" fill="#bfbfbf"/><rect x="288.3" y="882.6" width="2.7" height="5.2" fill="#bfbfbf"/><rect x="292.2" y="882.6" width="5.8" height="5.2" fill="#bfbfbf"/><rect x="300" y="882.6" width="15.5" height="5.2" fill="#bfbfbf"/><rect x="316.5" y="882.6" width="7" height="5.2" fill="#bfbfbf"/><rect x="324.5" y="882.6" width="5" height="5.2" fill="#bfbfbf"/><rect x="330.5" y="882.6" width="3.9" height="5.2" fill="#bfbfbf"/>
<rect x="99.4" y="895.3" width="2.7" height="5.6" fill="#1b7be0"/><rect x="108.9" y="895.3" width="2.7" height="5.6" fill="#1b7be0"/><rect x="121" y="895.3" width="2.7" height="5.6" fill="#1b7be0"/><rect x="125.2" y="895.3" width="2.7" height="5.6" fill="#1b7be0"/><rect x="131.7" y="895.3" width="2.7" height="5.6" fill="#1b7be0"/><rect x="139.4" y="895.3" width="2.7" height="5.6" fill="#1b7be0"/><rect x="144.2" y="895.3" width="2.7" height="5.6" fill="#1b7be0"/><rect x="149.6" y="895.3" width="2.7" height="5.6" fill="#1b7be0"/><rect x="156.9" y="895.3" width="3.1" height="5.6" fill="#1b7be0"/><rect x="161.4" y="895.3" width="2.7" height="5.6" fill="#1b7be0"/><rect x="164.6" y="895.3" width="2.7" height="5.6" fill="#1b7be0"/><rect x="168.3" y="895.3" width="3.2" height="5.6" fill="#1b7be0"/><rect x="176.6" y="895.3" width="3.2" height="5.6" fill="#1b7be0"/><rect x="181.2" y="895.3" width="3.3" height="5.6" fill="#1b7be0"/><rect x="194.8" y="895.3" width="2.7" height="5.6" fill="#1b7be0"/><rect x="205.7" y="895.3" width="3" height="5.6" fill="#1b7be0"/><rect x="244" y="895.3" width="2.9" height="5.6" fill="#1b7be0"/><rect x="276.6" y="895.3" width="2.7" height="5.6" fill="#1b7be0"/><rect x="280.2" y="895.3" width="2.8" height="5.6" fill="#1b7be0"/><rect x="286.7" y="895.3" width="2.9" height="5.6" fill="#1b7be0"/><rect x="291.3" y="895.3" width="3.1" height="5.6" fill="#1b7be0"/><rect x="297.5" y="895.3" width="4.1" height="5.6" fill="#1b7be0"/><rect x="320.7" y="895.3" width="2.7" height="5.6" fill="#1b7be0"/><rect x="326.5" y="895.3" width="3.1" height="5.6" fill="#1b7be0"/>
<rect x="389.1" y="857.2" width="2.7" height="5.4" fill="#000"/><rect x="423.9" y="857.2" width="2.7" height="5.4" fill="#000"/><rect x="462.2" y="857.2" width="2.7" height="5.4" fill="#000"/><rect x="471.7" y="857.2" width="2.7" height="5.4" fill="#000"/><rect x="479.4" y="857.2" width="2.7" height="5.4" fill="#000"/><rect x="488.4" y="857.2" width="2.7" height="5.4" fill="#000"/>
<rect x="488.2" y="883" width="2.7" height="5" fill="#c8c8c8"/>
<rect x="478.1" y="895.2" width="2.4" height="6" fill="#1b7be0"/><rect x="481.9" y="895.2" width="2.4" height="6" fill="#1b7be0"/><rect x="486.9" y="895.2" width="2.4" height="6" fill="#1b7be0"/><rect x="490.8" y="895.2" width="2.4" height="6" fill="#1b7be0"/><rect x="497.3" y="895.2" width="2.4" height="6" fill="#1b7be0"/><rect x="500.9" y="895.2" width="2.4" height="6" fill="#1b7be0"/><rect x="503.2" y="895.2" width="2.4" height="6" fill="#1b7be0"/><rect x="505.6" y="895.2" width="2.4" height="6" fill="#1b7be0"/><rect x="508.6" y="895.2" width="2.4" height="6" fill="#1b7be0"/><rect x="511.5" y="895.2" width="2.4" height="6" fill="#1b7be0"/><rect x="515.7" y="895.2" width="2.4" height="6" fill="#1b7be0"/><rect x="520.4" y="895.2" width="2.4" height="6" fill="#1b7be0"/><rect x="524.6" y="895.2" width="2.4" height="6" fill="#1b7be0"/><rect x="528.4" y="895.2" width="2.4" height="6" fill="#1b7be0"/><rect x="532.9" y="895.2" width="2.4" height="6" fill="#1b7be0"/><rect x="537.3" y="895.2" width="2.4" height="6" fill="#1b7be0"/><rect x="541.8" y="895.2" width="2.4" height="6" fill="#1b7be0"/><rect x="546.2" y="895.2" width="2.4" height="6" fill="#1b7be0"/><rect x="550.7" y="895.2" width="2.4" height="6" fill="#1b7be0"/><rect x="556" y="895.2" width="2.4" height="6" fill="#1b7be0"/><rect x="560.1" y="895.2" width="2.4" height="6" fill="#1b7be0"/><rect x="564" y="895.2" width="2.4" height="6" fill="#1b7be0"/>
<path d="M81.9,740.5C83.8,740 85.8,740.5 87.7,739.1C89.9,737.5 92.2,730.8 94.4,730.8C95.7,730.8 97,735.3 98.3,739.5C99.6,743.6 100.8,754.7 102.1,755.9C103.1,756.8 104,756.8 105,756.8C106.6,756.8 108.3,748.2 109.9,748.2C111.5,748.2 113.1,754 114.7,757.8C116.6,762.3 118.5,773.2 120.4,773.2C122,773.2 123.7,763.2 125.3,754.9C126.9,746.8 128.5,729 130.1,724.1C131.4,720.2 132.6,720.2 133.9,720.2C136.5,720.2 139,724.5 141.6,726C143.5,727.2 145.5,728.3 147.4,728.3C150.6,728.3 153.8,728.3 157,724.1C158.9,721.6 160.9,710.1 162.8,701C164.6,692.5 166.4,671.1 168.2,671.1C170.1,671.1 172.1,685.2 174,685.2C175.4,685.2 176.8,672.4 178.2,660.5C179.8,646.9 181.4,621.6 183,608.5C184.3,597.9 185.6,589.3 186.9,589.3C188.2,589.3 189.4,594.7 190.7,594.7C192.2,594.7 193.7,587.7 195.2,587.7C196.3,587.7 197.4,591 198.5,604.7C199.8,620.4 201,649.7 202.3,675.9C203.3,695.9 204.2,726.5 205.2,743.3C206.2,760.2 207.1,775.4 208.1,777C209.4,779.2 210.7,779.2 212,779.2C253.7,779.2 295.3,779.2 337,779.2" fill="none" stroke="#000" stroke-width="2.9" stroke-linejoin="round" stroke-linecap="round" />
<path d="M82,778.5 L82.5,778.3 L83,777.9 L83.5,777.4 L84,776.7 L84.5,775.9 L85,775 L85.5,773.8 L86,772.4 L86.5,770.8 L87,769.1 L87.5,767.3 L88,765.4 L88.5,763.5 L89,761.6 L89.5,760 L90,758.5 L90.5,757.4 L91,756.7 L91.5,756.4 L92,756.5 L92.5,757.1 L93,758.1 L93.5,759.4 L94,760.9 L94.5,762.7 L95,764.6 L95.5,766.5 L96,768.4 L96.5,770.2 L97,771.8 L97.5,773.2 L98,774.5 L98.5,775.6 L99,776.4 L99.5,777.1 L100,777.7 L100.5,778.1 L101,778.4 L101.5,778.7 L102,778.8 L102.5,779 L103,779 L103.5,779.1 L104,779.1 L104.5,779.2 L105,779.2 L105.5,779.2 L106,779.2 L106.5,779.2 L107,779.2 L107.5,779.2 L108,779.2 L108.5,779.2 L109,779.2 L109.5,779.2 L110,779.2 L110.5,779.2 L111,779.2 L111.5,779.2 L112,779.2 L112.5,779.2 L113,779.2 L113.5,779.2 L114,779.2 L114.5,779.2 L115,779.2 L115.5,779.2 L116,779.2 L116.5,779.2 L117,779.2 L117.5,779.2 L118,779.2 L118.5,779.2 L119,779.2 L119.5,779.2 L120,779.2 L120.5,779.2 L121,779.2 L121.5,779.2 L122,779.2 L122.5,779.2 L123,779.2 L123.5,779.2 L124,779.2 L124.5,779.2 L125,779.2 L125.5,779.2 L126,779.2 L126.5,779.2 L127,779.2 L127.5,779.2 L128,779.2 L128.5,779.2 L129,779.2 L129.5,779.2 L130,779.2 L130.5,779.2 L131,779.2 L131.5,779.2 L132,779.2 L132.5,779.2 L133,779.2 L133.5,779.2 L134,779.2 L134.5,779.2 L135,779.2 L135.5,779.2 L136,779.2 L136.5,779.2 L137,779.2 L137.5,779.2 L138,779.2 L138.5,779.2 L139,779.2 L139.5,779.2 L140,779.2 L140.5,779.2 L141,779.2 L141.5,779.2 L142,779.2 L142.5,779.2 L143,779.2 L143.5,779.2 L144,779.2 L144.5,779.2 L145,779.2 L145.5,779.2 L146,779.2 L146.5,779.2 L147,779.2 L147.5,779.2 L148,779.2 L148.5,779.2 L149,779.2 L149.5,779.2 L150,779.2 L150.5,779.2 L151,779.2 L151.5,779.2 L152,779.2 L152.5,779.2 L153,779.1 L153.5,779.1 L154,779 L154.5,778.9 L155,778.8 L155.5,778.5 L156,778.3 L156.5,777.9 L157,777.4 L157.5,776.7 L158,775.9 L158.5,775 L159,773.8 L159.5,772.4 L160,770.8 L160.5,769.1 L161,767.3 L161.5,765.4 L162,763.5 L162.5,761.6 L163,760 L163.5,758.5 L164,757.4 L164.5,756.7 L165,756.4 L165.5,756.5 L166,757.1 L166.5,758.1 L167,759.4 L167.5,760.9 L168,762.7 L168.5,764.6 L169,766.5 L169.5,768.4 L170,770.2 L170.5,771.8 L171,773.2 L171.5,774.5 L172,775.6 L172.5,776.4 L173,777.1 L173.5,777.7 L174,778.1 L174.5,778.4 L175,778.7 L175.5,778.8 L176,779 L176.5,779 L177,779.1 L177.5,779.1 L178,779.2 L178.5,779.2 L179,779.2 L179.5,779.2 L180,779.2 L180.5,779.2 L181,779.2 L181.5,779.2 L182,779.2 L182.5,779.2 L183,779.2 L183.5,779.2 L184,779.2 L184.5,779.2 L185,779.2 L185.5,779.2 L186,779.2 L186.5,779.2 L187,779.2 L187.5,779.2 L188,779.2 L188.5,779.2 L189,779.2 L189.5,779.2 L190,779.2 L190.5,779.2 L191,779.2 L191.5,779.2 L192,779.2 L192.5,779.2 L193,779.2 L193.5,779.2 L194,779.2 L194.5,779.2 L195,779.2 L195.5,779.2 L196,779.2 L196.5,779.2 L197,779.2 L197.5,779.2 L198,779.2 L198.5,779.2 L199,779.2 L199.5,779.2 L200,779.2 L200.5,779.2 L201,779.2 L201.5,779.2 L202,779.2 L202.5,779.2 L203,779.2 L203.5,779.2 L204,779.2 L204.5,779.2 L205,779.2 L205.5,779.2 L206,779.2 L206.5,779.2 L207,779.2 L207.5,779.2 L208,779.2 L208.5,779.2 L209,779.2 L209.5,779.2 L210,779.2 L210.5,779.2 L211,779.2 L211.5,779.2 L212,779.2 L212.5,779.2 L213,779.2 L213.5,779.2 L214,779.2 L214.5,779.2 L215,779.2 L215.5,779.2 L216,779.2 L216.5,779.2 L217,779.2 L217.5,779.2 L218,779.2 L218.5,779.2 L219,779.2 L219.5,779.2 L220,779.2 L220.5,779.2 L221,779.2 L221.5,779.2 L222,779.2 L222.5,779.2 L223,779.2 L223.5,779.2 L224,779.2 L224.5,779.2 L225,779.2 L225.5,779.2 L226,779.2 L226.5,779.2 L227,779.2 L227.5,779.2 L228,779.2 L228.5,779.2 L229,779.2 L229.5,779.2 L230,779.2 L230.5,779.2 L231,779.2 L231.5,779.2 L232,779.2 L232.5,779.2 L233,779.2 L233.5,779.2 L234,779.2 L234.5,779.2 L235,779.2 L235.5,779.2 L236,779.2 L236.5,779.2 L237,779.2 L237.5,779.2 L238,779.2 L238.5,779.2 L239,779.2 L239.5,779.2 L240,779.2 L240.5,779.2 L241,779.2 L241.5,779.2 L242,779.2 L242.5,779.2 L243,779.2 L243.5,779.2 L244,779.2 L244.5,779.2 L245,779.2 L245.5,779.2 L246,779.2 L246.5,779.2 L247,779.2 L247.5,779.2 L248,779.2 L248.5,779.2 L249,779.2 L249.5,779.2 L250,779.2 L250.5,779.2 L251,779.2 L251.5,779.2 L252,779.2 L252.5,779.2 L253,779.2 L253.5,779.2 L254,779.2 L254.5,779.2 L255,779.2 L255.5,779.2 L256,779.2 L256.5,779.2 L257,779.2 L257.5,779.2 L258,779.2 L258.5,779.2 L259,779.2 L259.5,779.2 L260,779.2 L260.5,779.2 L261,779.2 L261.5,779.2 L262,779.2 L262.5,779.2 L263,779.2 L263.5,779.2 L264,779.2 L264.5,779.2 L265,779.2 L265.5,779.2 L266,779.2 L266.5,779.2 L267,779.1 L267.5,779.1 L268,779 L268.5,779 L269,778.8 L269.5,778.6 L270,778.3 L270.5,777.9 L271,777.4 L271.5,776.7 L272,775.8 L272.5,774.6 L273,773.3 L273.5,771.7 L274,769.9 L274.5,768 L275,766 L275.5,763.9 L276,761.9 L276.5,760.1 L277,758.6 L277.5,757.5 L278,756.9 L278.5,756.7 L279,757.1 L279.5,757.9 L280,759.2 L280.5,760.8 L281,762.7 L281.5,764.7 L282,766.8 L282.5,768.8 L283,770.7 L283.5,772.4 L284,773.8 L284.5,775.1 L285,776 L285.5,776.8 L286,777.3 L286.5,777.7 L287,777.8 L287.5,777.7 L288,777.5 L288.5,777 L289,776.4 L289.5,775.5 L290,774.4 L290.5,773 L291,771.4 L291.5,769.6 L292,767.6 L292.5,765.6 L293,763.5 L293.5,761.6 L294,759.8 L294.5,758.4 L295,757.4 L295.5,756.8 L296,756.7 L296.5,757.2 L297,758.1 L297.5,759.5 L298,761.2 L298.5,763.1 L299,765.1 L299.5,767.2 L300,769.2 L300.5,771 L301,772.7 L301.5,774.1 L302,775.3 L302.5,776.3 L303,777.1 L303.5,777.7 L304,778.2 L304.5,778.5 L305,778.7 L305.5,778.9 L306,779 L306.5,779.1 L307,779.1 L307.5,779.2 L308,779.2 L308.5,779.2 L309,779.2 L309.5,779.2 L310,779.2 L310.5,779.2 L311,779.2 L311.5,779.2 L312,779.2 L312.5,779.2 L313,779.2 L313.5,779.2 L314,779.2 L314.5,779.2 L315,779.2 L315.5,779.2 L316,779.2 L316.5,779.2 L317,779.2 L317.5,779.2 L318,779.2 L318.5,779.2 L319,779.2 L319.5,779.2 L320,779.2 L320.5,779.2 L321,779.2 L321.5,779.2 L322,779.2 L322.5,779.2 L323,779.2 L323.5,779.2 L324,779.2 L324.5,779.2 L325,779.2 L325.5,779.2 L326,779.2 L326.5,779.2 L327,779.2 L327.5,779.2 L328,779.2 L328.5,779.2 L329,779.2 L329.5,779.2 L330,779.2 L330.5,779.2 L331,779.2 L331.5,779.2 L332,779.2 L332.5,779.2 L333,779.2 L333.5,779.2 L334,779.2 L334.5,779.2 L335,779.2 L335.5,779.2 L336,779.2 L336.5,779.2 L337,779.2" fill="none" stroke="#f07a3c" stroke-width="2.9" stroke-linejoin="round" stroke-linecap="round"/>
<path d="M81.9,714.5C83.8,713.1 85.8,710.7 87.7,710.2C90.3,709.6 92.8,710.2 95.4,709.6C98,709 100.5,703.9 103.1,703.9C106.3,703.9 109.5,713.5 112.7,713.5C116.6,713.5 120.4,696.2 124.3,696.2C128.2,696.2 132,715.4 135.9,715.4C139.1,715.4 142.3,715.4 145.5,714.8C148.7,714.2 151.9,714.7 155.1,709.6C158,705 160.9,685.6 163.8,685.6C166.7,685.6 169.5,722.2 172.4,722.2C175.6,722.2 178.9,710.3 182.1,704.8C185.3,699.4 188.5,689.4 191.7,689.4C193.6,689.4 195.6,691.3 197.5,691.3C199.4,691.3 201.2,683 203.1,683C205.5,683 208,697.9 210.4,702.8C213.2,708.3 215.9,714.2 218.7,714.2C220.8,714.2 222.8,703.8 224.9,703.8C227.7,703.8 230.4,707.9 233.2,707.9C235.6,707.9 238,701.7 240.4,701.7C243.9,701.7 247.3,717.3 250.8,717.3C253.9,717.3 257.1,712.6 260.2,711C264.3,708.8 268.5,705.9 272.6,705.9C276.1,705.9 279.5,717.3 283,717.3C284.4,717.3 285.7,715.2 287.1,715.2C289.5,715.2 292,722.5 294.4,722.5C298.2,722.5 302,698.6 305.8,698.6C309.3,698.6 312.7,701.9 316.2,704.8C319,707.1 321.7,712 324.5,714.2C328.3,717.2 332.1,718.3 335.9,720.4" fill="none" stroke="#b9b9b9" stroke-width="2.9" stroke-linejoin="round" stroke-linecap="round" />
<path d="M81.9,779.2C84.2,778.8 86.4,779.2 88.7,778C90.3,777.2 91.9,769.7 93.5,766.5C95.4,762.6 97.4,756.8 99.3,756.8C100.9,756.8 102.5,759.7 104.1,759.7C105.7,759.7 107.3,755.9 108.9,755.9C111.5,755.9 114,766.5 116.6,766.5C117.9,766.5 119.1,758.7 120.4,754.9C122,750 123.7,740.5 125.3,740.5C126.9,740.5 128.5,743.9 130.1,745.3C132,747.1 134,750.1 135.9,750.1C139.1,750.1 142.3,739.5 145.5,739.5C148.4,739.5 151.3,746.2 154.2,746.2C157.7,746.2 161.2,724.1 164.7,724.1C167.6,724.1 170.5,741.4 173.4,741.4C175,741.4 176.6,719 178.2,704.8C180.1,687.6 182.1,661.6 184,647C186.2,630.1 188.5,610.4 190.7,610.4C192.3,610.4 194,618.1 195.6,619.1C197.2,620.1 198.8,619.1 200.4,620.1C201.6,620.9 202.9,625.9 204.1,630.2C205.8,636.2 207.6,646.5 209.3,650.9C211.4,656.2 213.5,653.5 215.6,659.2C217.3,663.8 219,675.4 220.7,682C222.1,687.5 223.5,695.5 224.9,695.5C226.6,695.5 228.4,689.3 230.1,689.3C232.5,689.3 234.9,694.5 237.3,694.5C239.7,694.5 242.2,676.8 244.6,676.8C247.4,676.8 250.1,692.5 252.9,698.6C255.7,704.6 258.4,713.1 261.2,713.1C262.9,713.1 264.7,712.1 266.4,712.1C269.2,712.1 271.9,726.9 274.7,731.8C276.4,734.9 278.2,734.6 279.9,735.9C282.3,737.7 284.7,741.1 287.1,741.1C290.6,741.1 294,729.7 297.5,729.7C299.2,729.7 301,745.6 302.7,752.5C305.1,762.1 307.5,779.2 309.9,779.2C311.6,779.2 313.4,779.2 315.1,775.3C317.9,769.1 320.6,747.3 323.4,747.3C325.8,747.3 328.3,755.6 330.7,755.6C332.4,755.6 334.2,741.1 335.9,733.9" fill="none" stroke="#1b7be0" stroke-width="2.9" stroke-linejoin="round" stroke-linecap="round" />
<path d="M378,779.4C378.2,779.4 378.3,779.4 378.5,779.4C378.7,779.4 378.8,779.3 379,779.3C379.2,779.3 379.3,779.2 379.5,779.2C379.7,779.2 379.8,779.1 380,779.1C380.2,779 380.3,778.9 380.5,778.8C380.7,778.8 380.8,778.7 381,778.6C381.2,778.4 381.3,778.3 381.5,778.2C381.7,778 381.8,777.8 382,777.6C382.2,777.4 382.3,777.2 382.5,776.9C382.7,776.7 382.8,776.4 383,776C383.2,775.7 383.3,775.3 383.5,774.9C383.7,774.5 383.8,774 384,773.5C384.2,773 384.3,772.4 384.5,771.8C384.7,771.1 384.8,770.5 385,769.7C385.2,769 385.3,768.2 385.5,767.3C385.7,766.5 385.8,765.6 386,764.6C386.2,763.6 386.3,762.6 386.5,761.6C386.7,760.5 386.8,759.4 387,758.2C387.2,757.1 387.3,755.9 387.5,754.7C387.7,753.5 387.8,752.3 388,751.1C388.2,749.9 388.3,748.7 388.5,747.5C388.7,746.3 388.8,745.1 389,744C389.2,742.9 389.3,741.8 389.5,740.8C389.7,739.8 389.8,738.8 390,737.9C390.2,737.1 390.3,736.3 390.5,735.6C390.7,735 390.8,734.4 391,733.9C391.2,733.5 391.3,733.1 391.5,732.9C391.7,732.7 391.8,732.7 392,732.7C392.2,732.7 392.3,732.9 392.5,733.3C392.7,733.6 392.8,734 393,734.5C393.2,735.1 393.3,735.7 393.5,736.5C393.7,737.2 393.8,738.1 394,739C394.2,739.9 394.3,741 394.5,742C394.7,743.1 394.8,744.2 395,745.4C395.2,746.5 395.3,747.7 395.5,748.9C395.7,750.1 395.8,751.4 396,752.6C396.2,753.8 396.3,755 396.5,756.2C396.7,757.3 396.8,758.5 397,759.6C397.2,760.7 397.3,761.8 397.5,762.8C397.7,763.8 397.8,764.8 398,765.7C398.2,766.6 398.3,767.5 398.5,768.3C398.7,769.1 398.8,769.9 399,770.6C399.2,771.3 399.3,771.9 399.5,772.5C399.7,773.1 399.8,773.6 400,774.1C400.2,774.6 400.3,775 400.5,775.4C400.7,775.8 400.8,776.1 401,776.4C401.2,776.7 401.3,777 401.5,777.2C401.7,777.5 401.8,777.7 402,777.9C402.2,778 402.3,778.2 402.5,778.3C402.7,778.5 402.8,778.6 403,778.7C403.2,778.8 403.3,778.9 403.5,778.9C403.7,779 403.8,779.1 404,779.1C404.2,779.2 404.3,779.2 404.5,779.2C404.7,779.3 404.8,779.3 405,779.3C405.2,779.4 405.3,779.4 405.5,779.4C405.7,779.4 405.8,779.4 406,779.4C406.2,779.4 406.3,779.5 406.5,779.5C406.7,779.5 406.8,779.5 407,779.5C407.2,779.5 407.3,779.5 407.5,779.5C407.7,779.5 407.8,779.5 408,779.5C408.2,779.5 408.3,779.5 408.5,779.5C408.7,779.5 408.8,779.5 409,779.5C409.2,779.5 409.3,779.5 409.5,779.5C409.7,779.5 409.8,779.5 410,779.5C410.2,779.5 410.3,779.5 410.5,779.5C410.7,779.5 410.8,779.5 411,779.4C411.2,779.4 411.3,779.4 411.5,779.4C411.7,779.4 411.8,779.4 412,779.4C412.2,779.4 412.3,779.3 412.5,779.3C412.7,779.3 412.8,779.2 413,779.2C413.2,779.2 413.3,779.1 413.5,779.1C413.7,779 413.8,778.9 414,778.8C414.2,778.8 414.3,778.7 414.5,778.6C414.7,778.4 414.8,778.3 415,778.2C415.2,778 415.3,777.8 415.5,777.6C415.7,777.4 415.8,777.2 416,776.9C416.2,776.7 416.3,776.4 416.5,776C416.7,775.7 416.8,775.3 417,774.9C417.2,774.5 417.3,774 417.5,773.5C417.7,773 417.8,772.4 418,771.8C418.2,771.1 418.3,770.5 418.5,769.7C418.7,769 418.8,768.2 419,767.3C419.2,766.5 419.3,765.6 419.5,764.6C419.7,763.6 419.8,762.6 420,761.6C420.2,760.5 420.3,759.4 420.5,758.2C420.7,757.1 420.8,755.9 421,754.7C421.2,753.5 421.3,752.3 421.5,751.1C421.7,749.9 421.8,748.7 422,747.5C422.2,746.3 422.3,745.1 422.5,744C422.7,742.9 422.8,741.8 423,740.8C423.2,739.8 423.3,738.8 423.5,737.9C423.7,737.1 423.8,736.3 424,735.6C424.2,735 424.3,734.4 424.5,733.9C424.7,733.5 424.8,733.1 425,732.9C425.2,732.7 425.3,732.7 425.5,732.7C425.7,732.7 425.8,732.9 426,733.3C426.2,733.6 426.3,734 426.5,734.5C426.7,735.1 426.8,735.7 427,736.5C427.2,737.2 427.3,738.1 427.5,739C427.7,739.9 427.8,741 428,742C428.2,743.1 428.3,744.2 428.5,745.4C428.7,746.5 428.8,747.7 429,748.9C429.2,750.1 429.3,751.4 429.5,752.6C429.7,753.8 429.8,755 430,756.2C430.2,757.3 430.3,758.5 430.5,759.6C430.7,760.7 430.8,761.8 431,762.8C431.2,763.8 431.3,764.8 431.5,765.7C431.7,766.6 431.8,767.5 432,768.3C432.2,769.1 432.3,769.9 432.5,770.6C432.7,771.3 432.8,771.9 433,772.5C433.2,773.1 433.3,773.6 433.5,774.1C433.7,774.6 433.8,775 434,775.4C434.2,775.8 434.3,776.1 434.5,776.4C434.7,776.7 434.8,777 435,777.2C435.2,777.5 435.3,777.7 435.5,777.9C435.7,778 435.8,778.2 436,778.3C436.2,778.5 436.3,778.6 436.5,778.7C436.7,778.8 436.8,778.9 437,778.9C437.2,779 437.3,779.1 437.5,779.1C437.7,779.2 437.8,779.2 438,779.2C438.2,779.3 438.3,779.3 438.5,779.3C438.7,779.4 438.8,779.4 439,779.4C439.2,779.4 439.3,779.4 439.5,779.4C439.7,779.4 439.8,779.5 440,779.5C440.2,779.5 440.3,779.5 440.5,779.5C440.7,779.5 440.8,779.5 441,779.5C441.2,779.5 441.3,779.5 441.5,779.5C441.7,779.5 441.8,779.5 442,779.5C442.2,779.5 442.3,779.5 442.5,779.5C442.7,779.5 442.8,779.5 443,779.5C443.2,779.5 443.3,779.5 443.5,779.5C443.7,779.5 443.8,779.5 444,779.5C444.2,779.5 444.3,779.5 444.5,779.5C444.7,779.5 444.8,779.5 445,779.5C445.2,779.5 445.3,779.5 445.5,779.5C445.7,779.5 445.8,779.5 446,779.5C446.2,779.5 446.3,779.5 446.5,779.5C446.7,779.5 446.8,779.5 447,779.5C447.3,779.5 447.7,779.5 448,779.5C449.5,779.5 450.9,779.5 452.4,778.5C454.1,777.3 455.9,768.4 457.6,756.7C459,747.3 460.4,728.9 461.8,715.2C462.8,705.1 463.9,691.2 464.9,685.1C465.6,681 466.3,681 467,681C468.2,681 469.5,683 470.7,683C471.9,683 473,675.7 474.2,669.6C475.6,662.3 477,654.1 478.4,642.6C479.4,634.1 480.5,617 481.5,609.4C482.2,604.2 482.9,604.2 483.6,604.2C484.6,604.2 485.7,610.4 486.7,610.4C488.3,610.4 489.8,590.3 491.4,590.3C492.4,590.3 493.3,594.4 494.3,603.2C494.9,608.4 495.4,618.6 496,632.2C496.7,649 497.4,677.7 498.1,694.5C499.1,719.2 500.2,742.9 501.2,756.7C502.2,770.5 503.3,775.6 504.3,777.4C505.5,779.5 506.8,779.5 508,779.5C509.3,779.5 510.7,779.5 512,779.5" fill="none" stroke="#000" stroke-width="2.9" stroke-linejoin="round" stroke-linecap="round" />
<path d="M476,779.5C485,779.5 494,779.5 503,779.5" fill="none" stroke="#f07a3c" stroke-width="2.9" stroke-linejoin="round" stroke-linecap="round" />
<path d="M378,779.5 L378.5,779.5 L379,779.5 L379.5,779.5 L380,779.5 L380.5,779.5 L381,779.5 L381.5,779.5 L382,779.5 L382.5,779.5 L383,779.5 L383.5,779.5 L384,779.5 L384.5,779.5 L385,779.5 L385.5,779.5 L386,779.5 L386.5,779.5 L387,779.5 L387.5,779.5 L388,779.5 L388.5,779.5 L389,779.5 L389.5,779.5 L390,779.5 L390.5,779.5 L391,779.5 L391.5,779.5 L392,779.5 L392.5,779.5 L393,779.5 L393.5,779.5 L394,779.5 L394.5,779.5 L395,779.5 L395.5,779.5 L396,779.5 L396.5,779.5 L397,779.5 L397.5,779.5 L398,779.5 L398.5,779.5 L399,779.5 L399.5,779.5 L400,779.5 L400.5,779.5 L401,779.5 L401.5,779.5 L402,779.5 L402.5,779.5 L403,779.5 L403.5,779.5 L404,779.5 L404.5,779.5 L405,779.5 L405.5,779.5 L406,779.5 L406.5,779.5 L407,779.5 L407.5,779.5 L408,779.5 L408.5,779.5 L409,779.5 L409.5,779.5 L410,779.5 L410.5,779.5 L411,779.5 L411.5,779.5 L412,779.5 L412.5,779.5 L413,779.5 L413.5,779.5 L414,779.5 L414.5,779.5 L415,779.5 L415.5,779.5 L416,779.5 L416.5,779.5 L417,779.5 L417.5,779.5 L418,779.5 L418.5,779.5 L419,779.5 L419.5,779.5 L420,779.5 L420.5,779.5 L421,779.5 L421.5,779.5 L422,779.5 L422.5,779.5 L423,779.5 L423.5,779.5 L424,779.5 L424.5,779.5 L425,779.5 L425.5,779.5 L426,779.5 L426.5,779.5 L427,779.5 L427.5,779.5 L428,779.5 L428.5,779.5 L429,779.5 L429.5,779.5 L430,779.5 L430.5,779.5 L431,779.5 L431.5,779.5 L432,779.5 L432.5,779.5 L433,779.5 L433.5,779.5 L434,779.5 L434.5,779.5 L435,779.5 L435.5,779.5 L436,779.5 L436.5,779.5 L437,779.5 L437.5,779.5 L438,779.5 L438.5,779.5 L439,779.5 L439.5,779.5 L440,779.5 L440.5,779.5 L441,779.5 L441.5,779.5 L442,779.5 L442.5,779.5 L443,779.5 L443.5,779.5 L444,779.5 L444.5,779.5 L445,779.5 L445.5,779.5 L446,779.5 L446.5,779.5 L447,779.5 L447.5,779.5 L448,779.5 L448.5,779.5 L449,779.5 L449.5,779.5 L450,779.5 L450.5,779.5 L451,779.5 L451.5,779.5 L452,779.5 L452.5,779.5 L453,779.5 L453.5,779.5 L454,779.5 L454.5,779.5 L455,779.5 L455.5,779.5 L456,779.5 L456.5,779.5 L457,779.5 L457.5,779.5 L458,779.5 L458.5,779.5 L459,779.5 L459.5,779.5 L460,779.5 L460.5,779.5 L461,779.5 L461.5,779.5 L462,779.5 L462.5,779.5 L463,779.5 L463.5,779.5 L464,779.5 L464.5,779.5 L465,779.5 L465.5,779.5 L466,779.5 L466.5,779.5 L467,779.5 L467.5,779.5 L468,779.5 L468.5,779.5 L469,779.5 L469.5,779.5 L470,779.5 L470.5,779.5 L471,779.5 L471.5,779.5 L472,779.5 L472.5,779.5 L473,779.5 L473.5,779.5 L474,779.5 L474.5,779.5 L475,779.5 L475.5,779.5 L476,779.5 L476.5,779.5 L477,779.5 L477.5,779.4 L478,779.4 L478.5,779.3 L479,779.2 L479.5,779 L480,778.8 L480.5,778.4 L481,778 L481.5,777.3 L482,776.4 L482.5,775.3 L483,773.9 L483.5,772.1 L484,769.9 L484.5,767.3 L485,764.3 L485.5,761 L486,757.4 L486.5,753.5 L487,749.6 L487.5,745.7 L488,742.1 L488.5,738.9 L489,736.2 L489.5,734.2 L490,733.1 L490.5,732.8 L491,733.4 L491.5,734.9 L492,737.2 L492.5,740.1 L493,743.5 L493.5,747.3 L494,751.2 L494.5,755.1 L495,758.9 L495.5,762.4 L496,765.6 L496.5,768.4 L497,770.8 L497.5,772.8 L498,774.5 L498.5,775.8 L499,776.8 L499.5,777.6 L500,778.2 L500.5,778.6 L501,778.9 L501.5,779.1 L502,779.2 L502.5,779.3 L503,779.4 L503.5,779.4 L504,779.5 L504.5,779.5 L505,779.5 L505.5,779.5 L506,779.5 L506.5,779.5 L507,779.5 L507.5,779.5 L508,779.5 L508.5,779.5 L509,779.5 L509.5,779.5 L510,779.5 L510.5,779.5 L511,779.5 L511.5,779.5 L512,779.5 L512.5,779.5 L513,779.5 L513.5,779.5 L514,779.5 L514.5,779.5 L515,779.5 L515.5,779.5 L516,779.5 L516.5,779.5 L517,779.5 L517.5,779.5 L518,779.5 L518.5,779.5 L519,779.5 L519.5,779.5 L520,779.5 L520.5,779.5 L521,779.5 L521.5,779.5 L522,779.5 L522.5,779.5 L523,779.5 L523.5,779.5 L524,779.5 L524.5,779.5 L525,779.5 L525.5,779.5 L526,779.5 L526.5,779.5 L527,779.5 L527.5,779.5 L528,779.5 L528.5,779.5 L529,779.5 L529.5,779.5 L530,779.5 L530.5,779.5 L531,779.5 L531.5,779.5 L532,779.5 L532.5,779.5 L533,779.5 L533.5,779.5 L534,779.5 L534.5,779.5 L535,779.5 L535.5,779.5 L536,779.5 L536.5,779.5 L537,779.5 L537.5,779.5 L538,779.5 L538.5,779.5 L539,779.5 L539.5,779.5 L540,779.5 L540.5,779.5 L541,779.5 L541.5,779.5 L542,779.5 L542.5,779.5 L543,779.5 L543.5,779.5 L544,779.5 L544.5,779.5 L545,779.5 L545.5,779.5 L546,779.5 L546.5,779.5 L547,779.5 L547.5,779.5 L548,779.5 L548.5,779.5 L549,779.5 L549.5,779.5 L550,779.5 L550.5,779.5 L551,779.5 L551.5,779.5 L552,779.5 L552.5,779.5 L553,779.5 L553.5,779.5 L554,779.5 L554.5,779.5 L555,779.5 L555.5,779.5 L556,779.5 L556.5,779.5 L557,779.5 L557.5,779.5 L558,779.5 L558.5,779.5 L559,779.5 L559.5,779.5 L560,779.5 L560.5,779.5 L561,779.5 L561.5,779.5 L562,779.5 L562.5,779.5 L563,779.5 L563.5,779.5 L564,779.5 L564.5,779.5 L565,779.5 L565.5,779.5 L566,779.5 L566.5,779.5 L567,779.5 L567.5,779.5 L568,779.5 L568.5,779.5 L569,779.5 L569.5,779.5 L570,779.5 L570.5,779.5 L571,779.5 L571.5,779.5 L572,779.5 L572.5,779.5 L573,779.5 L573.5,779.5 L574,779.5 L574.5,779.5 L575,779.5 L575.5,779.5 L576,779.5 L576.5,779.5 L577,779.5 L577.5,779.5 L578,779.5 L578.5,779.5 L579,779.5 L579.5,779.5 L580,779.5 L580.5,779.5 L581,779.5 L581.5,779.5 L582,779.5 L582.5,779.5 L583,779.5 L583.5,779.5 L584,779.5 L584.5,779.5 L585,779.5 L585.5,779.5 L586,779.5 L586.5,779.5 L587,779.5 L587.5,779.5 L588,779.5 L588.5,779.5 L589,779.5 L589.5,779.5 L590,779.5 L590.5,779.5 L591,779.5 L591.5,779.5 L592,779.5 L592.5,779.5 L593,779.5 L593.5,779.5 L594,779.5 L594.5,779.5 L595,779.5 L595.5,779.5 L596,779.5 L596.5,779.5 L597,779.5 L597.5,779.5 L598,779.5 L598.5,779.5 L599,779.5 L599.5,779.5 L600,779.5 L600.5,779.5 L601,779.5 L601.5,779.5 L602,779.5 L602.5,779.5 L603,779.5 L603.5,779.5 L604,779.5 L604.5,779.5 L605,779.5 L605.5,779.5 L606,779.5 L606.5,779.5 L607,779.5 L607.5,779.5 L608,779.5 L608.5,779.5 L609,779.5 L609.5,779.5 L610,779.5 L610.5,779.5 L611,779.5 L611.5,779.5 L612,779.5 L612.5,779.5 L613,779.5 L613.5,779.5 L614,779.5 L614.5,779.5 L615,779.5 L615.5,779.5 L616,779.5 L616.5,779.5 L617,779.5 L617.5,779.5 L618,779.5 L618.5,779.5 L619,779.5 L619.5,779.5 L620,779.5 L620.5,779.5 L621,779.5 L621.5,779.5 L622,779.5 L622.5,779.5 L623,779.5 L623.5,779.5 L624,779.5 L624.5,779.5 L625,779.5 L625.5,779.5 L626,779.5 L626.5,779.5 L627,779.5 L627.5,779.5 L628,779.5 L628.5,779.5 L629,779.5 L629.5,779.5 L630,779.5 L630.5,779.5 L631,779.5 L631.5,779.5 L632,779.5 L632.5,779.5 L633,779.5" fill="none" stroke="#b9b9b9" stroke-width="2.9" stroke-linejoin="round" stroke-linecap="round"/>
<path d="M378,779.5C408.7,779.5 439.4,779.5 470.1,779.5C471.1,779.5 472.2,776.2 473.2,767C474.6,754.8 475.9,734 477.3,715.2C478.7,696 480.1,672.1 481.5,653C482.5,638.9 483.6,615.6 484.6,615.6C486.3,615.6 488.1,620.9 489.8,623.9C491.3,626.5 492.8,632.2 494.3,632.2C495.2,632.2 496.1,628.1 497,628.1C498.4,628.1 499.8,640.7 501.2,646.7C502.2,651.1 503.3,659.2 504.3,659.2C506.4,659.2 508.4,653 510.5,653C512.2,653 514,663.4 515.7,669.6C517.4,675.8 519.2,690.3 520.9,690.3C522.6,690.3 524.4,683 526.1,683C527.8,683 529.6,688.6 531.3,690.3C533.4,692.4 535.4,694.5 537.5,694.5C539.9,694.5 542.3,694.5 544.7,694.5C547.1,694.5 549.6,698.1 552,700.7C554.1,702.9 556.1,709 558.2,709C559.9,709 561.7,707.9 563.4,707.9C564.8,707.9 566.2,716.2 567.6,725.6C568.6,732.5 569.7,750.1 570.7,756.7C572.4,767.7 574.2,777.2 575.9,778.5C577.3,779.5 578.6,779.5 580,779.5C594.7,779.5 609.3,779.5 624,779.5C625.2,779.5 626.3,775.3 627.5,770C628.5,765.5 629.5,757.2 630.5,750C631.2,745.2 631.8,739.3 632.5,734" fill="none" stroke="#1b7be0" stroke-width="2.9" stroke-linejoin="round" stroke-linecap="round" />
<path d="M81.9,1077C83.2,1077 84.5,1077 85.8,1077C87.7,1077 89.7,1086.1 91.6,1092.4C93.5,1098.6 95.4,1114.6 97.3,1114.6C98.6,1114.6 99.9,1114.6 101.2,1113.6C102.8,1112.4 104.4,1096.9 106,1092.4C107.9,1087 109.9,1083.8 111.8,1083.8C114,1083.8 116.3,1094.4 118.5,1100.2C120.4,1105.3 122.4,1116.5 124.3,1116.5C126.2,1116.5 128.2,1116.5 130.1,1113.6C131.7,1111.2 133.3,1089.6 134.9,1080.9C136.5,1072.2 138.1,1061.6 139.7,1061.6C142.3,1061.6 144.8,1061.6 147.4,1061.6C150,1061.6 152.5,1059.7 155.1,1058.7C157.4,1057.8 159.6,1055.9 161.9,1055.9C163.2,1055.9 164.4,1058.2 165.7,1063.6C167,1069.1 168.3,1081.4 169.6,1088.6C171.2,1097.4 172.8,1106.9 174.4,1111.7C175.4,1114.6 176.3,1114.6 177.3,1114.6C178.9,1114.6 180.5,1099.9 182.1,1096.3C184,1091.9 186,1090.5 187.9,1090.5C189.8,1090.5 191.7,1090.5 193.6,1092.4C195.2,1094 196.9,1103.7 198.5,1107.9C200.1,1112 201.7,1117.1 203.3,1117.5C204.5,1117.8 205.8,1117.8 207,1117.8C250.3,1117.8 293.7,1117.8 337,1117.8" fill="none" stroke="#000" stroke-width="2.9" stroke-linejoin="round" stroke-linecap="round" />
<path d="M82,1117.5 L82.5,1117.3 L83,1117.1 L83.5,1116.8 L84,1116.4 L84.5,1115.8 L85,1115.1 L85.5,1114.3 L86,1113.2 L86.5,1112 L87,1110.5 L87.5,1108.9 L88,1107.1 L88.5,1105.2 L89,1103.2 L89.5,1101.3 L90,1099.4 L90.5,1097.7 L91,1096.3 L91.5,1095.3 L92,1094.6 L92.5,1094.4 L93,1094.6 L93.5,1095.3 L94,1096.3 L94.5,1097.7 L95,1099.4 L95.5,1101.3 L96,1103.2 L96.5,1105.2 L97,1107.1 L97.5,1108.9 L98,1110.5 L98.5,1112 L99,1113.2 L99.5,1114.3 L100,1115.1 L100.5,1115.8 L101,1116.4 L101.5,1116.8 L102,1117.1 L102.5,1117.3 L103,1117.5 L103.5,1117.6 L104,1117.7 L104.5,1117.7 L105,1117.7 L105.5,1117.8 L106,1117.8 L106.5,1117.8 L107,1117.8 L107.5,1117.8 L108,1117.8 L108.5,1117.8 L109,1117.8 L109.5,1117.8 L110,1117.8 L110.5,1117.8 L111,1117.8 L111.5,1117.8 L112,1117.8 L112.5,1117.8 L113,1117.8 L113.5,1117.8 L114,1117.8 L114.5,1117.8 L115,1117.8 L115.5,1117.8 L116,1117.8 L116.5,1117.8 L117,1117.8 L117.5,1117.8 L118,1117.8 L118.5,1117.8 L119,1117.8 L119.5,1117.8 L120,1117.8 L120.5,1117.8 L121,1117.8 L121.5,1117.8 L122,1117.8 L122.5,1117.8 L123,1117.8 L123.5,1117.8 L124,1117.8 L124.5,1117.8 L125,1117.8 L125.5,1117.8 L126,1117.8 L126.5,1117.8 L127,1117.8 L127.5,1117.8 L128,1117.8 L128.5,1117.8 L129,1117.8 L129.5,1117.8 L130,1117.8 L130.5,1117.8 L131,1117.8 L131.5,1117.8 L132,1117.8 L132.5,1117.8 L133,1117.8 L133.5,1117.8 L134,1117.8 L134.5,1117.8 L135,1117.8 L135.5,1117.8 L136,1117.8 L136.5,1117.8 L137,1117.8 L137.5,1117.8 L138,1117.8 L138.5,1117.8 L139,1117.8 L139.5,1117.8 L140,1117.8 L140.5,1117.8 L141,1117.8 L141.5,1117.8 L142,1117.8 L142.5,1117.8 L143,1117.8 L143.5,1117.8 L144,1117.8 L144.5,1117.8 L145,1117.8 L145.5,1117.8 L146,1117.8 L146.5,1117.8 L147,1117.8 L147.5,1117.8 L148,1117.8 L148.5,1117.8 L149,1117.8 L149.5,1117.8 L150,1117.8 L150.5,1117.8 L151,1117.8 L151.5,1117.8 L152,1117.8 L152.5,1117.8 L153,1117.8 L153.5,1117.7 L154,1117.7 L154.5,1117.6 L155,1117.5 L155.5,1117.4 L156,1117.2 L156.5,1116.9 L157,1116.5 L157.5,1116 L158,1115.4 L158.5,1114.6 L159,1113.6 L159.5,1112.4 L160,1111 L160.5,1109.4 L161,1107.7 L161.5,1105.7 L162,1103.8 L162.5,1101.8 L163,1099.8 L163.5,1098.1 L164,1096.5 L164.5,1095.3 L165,1094.4 L165.5,1094 L166,1094.1 L166.5,1094.6 L167,1095.5 L167.5,1096.8 L168,1098.4 L168.5,1100.2 L169,1102.2 L169.5,1104.2 L170,1106.1 L170.5,1108 L171,1109.7 L171.5,1111.3 L172,1112.7 L172.5,1113.8 L173,1114.8 L173.5,1115.5 L174,1116.1 L174.5,1116.6 L175,1117 L175.5,1117.2 L176,1117.4 L176.5,1117.5 L177,1117.6 L177.5,1117.7 L178,1117.7 L178.5,1117.8 L179,1117.8 L179.5,1117.8 L180,1117.8 L180.5,1117.8 L181,1117.8 L181.5,1117.8 L182,1117.8 L182.5,1117.8 L183,1117.8 L183.5,1117.8 L184,1117.8 L184.5,1117.8 L185,1117.8 L185.5,1117.8 L186,1117.8 L186.5,1117.8 L187,1117.8 L187.5,1117.8 L188,1117.8 L188.5,1117.8 L189,1117.8 L189.5,1117.8 L190,1117.8 L190.5,1117.8 L191,1117.8 L191.5,1117.8 L192,1117.8 L192.5,1117.8 L193,1117.8 L193.5,1117.8 L194,1117.8 L194.5,1117.8 L195,1117.8 L195.5,1117.8 L196,1117.8 L196.5,1117.8 L197,1117.8 L197.5,1117.8 L198,1117.8 L198.5,1117.8 L199,1117.8 L199.5,1117.8 L200,1117.8 L200.5,1117.8 L201,1117.8 L201.5,1117.8 L202,1117.8 L202.5,1117.8 L203,1117.8 L203.5,1117.8 L204,1117.8 L204.5,1117.8 L205,1117.8 L205.5,1117.8 L206,1117.8 L206.5,1117.8 L207,1117.8 L207.5,1117.8 L208,1117.8 L208.5,1117.8 L209,1117.8 L209.5,1117.8 L210,1117.8 L210.5,1117.8 L211,1117.8 L211.5,1117.8 L212,1117.8 L212.5,1117.8 L213,1117.8 L213.5,1117.8 L214,1117.8 L214.5,1117.8 L215,1117.8 L215.5,1117.8 L216,1117.8 L216.5,1117.8 L217,1117.8 L217.5,1117.8 L218,1117.8 L218.5,1117.8 L219,1117.8 L219.5,1117.8 L220,1117.8 L220.5,1117.8 L221,1117.8 L221.5,1117.8 L222,1117.8 L222.5,1117.8 L223,1117.8 L223.5,1117.8 L224,1117.8 L224.5,1117.8 L225,1117.8 L225.5,1117.8 L226,1117.8 L226.5,1117.8 L227,1117.8 L227.5,1117.8 L228,1117.8 L228.5,1117.8 L229,1117.8 L229.5,1117.8 L230,1117.8 L230.5,1117.8 L231,1117.8 L231.5,1117.8 L232,1117.8 L232.5,1117.8 L233,1117.8 L233.5,1117.8 L234,1117.8 L234.5,1117.8 L235,1117.8 L235.5,1117.8 L236,1117.8 L236.5,1117.8 L237,1117.8 L237.5,1117.8 L238,1117.8 L238.5,1117.8 L239,1117.8 L239.5,1117.8 L240,1117.8 L240.5,1117.8 L241,1117.8 L241.5,1117.8 L242,1117.8 L242.5,1117.8 L243,1117.8 L243.5,1117.8 L244,1117.8 L244.5,1117.8 L245,1117.8 L245.5,1117.8 L246,1117.8 L246.5,1117.8 L247,1117.8 L247.5,1117.8 L248,1117.8 L248.5,1117.8 L249,1117.8 L249.5,1117.8 L250,1117.8 L250.5,1117.8 L251,1117.8 L251.5,1117.8 L252,1117.8 L252.5,1117.8 L253,1117.8 L253.5,1117.8 L254,1117.8 L254.5,1117.8 L255,1117.8 L255.5,1117.8 L256,1117.8 L256.5,1117.8 L257,1117.8 L257.5,1117.8 L258,1117.8 L258.5,1117.8 L259,1117.8 L259.5,1117.8 L260,1117.8 L260.5,1117.8 L261,1117.8 L261.5,1117.8 L262,1117.8 L262.5,1117.8 L263,1117.8 L263.5,1117.8 L264,1117.8 L264.5,1117.8 L265,1117.8 L265.5,1117.8 L266,1117.8 L266.5,1117.8 L267,1117.8 L267.5,1117.7 L268,1117.7 L268.5,1117.6 L269,1117.5 L269.5,1117.4 L270,1117.1 L270.5,1116.8 L271,1116.4 L271.5,1115.8 L272,1115 L272.5,1114 L273,1112.8 L273.5,1111.4 L274,1109.7 L274.5,1107.8 L275,1105.7 L275.5,1103.6 L276,1101.5 L276.5,1099.4 L277,1097.6 L277.5,1096.1 L278,1095.1 L278.5,1094.5 L279,1094.4 L279.5,1094.9 L280,1095.9 L280.5,1097.3 L281,1099.1 L281.5,1101.1 L282,1103.2 L282.5,1105.3 L283,1107.4 L283.5,1109.3 L284,1111 L284.5,1112.5 L285,1113.7 L285.5,1114.7 L286,1115.5 L286.5,1116 L287,1116.4 L287.5,1116.5 L288,1116.5 L288.5,1116.2 L289,1115.8 L289.5,1115.2 L290,1114.4 L290.5,1113.3 L291,1111.9 L291.5,1110.4 L292,1108.6 L292.5,1106.6 L293,1104.5 L293.5,1102.3 L294,1100.2 L294.5,1098.3 L295,1096.7 L295.5,1095.5 L296,1094.7 L296.5,1094.4 L297,1094.7 L297.5,1095.5 L298,1096.7 L298.5,1098.3 L299,1100.2 L299.5,1102.3 L300,1104.5 L300.5,1106.6 L301,1108.6 L301.5,1110.4 L302,1112 L302.5,1113.3 L303,1114.4 L303.5,1115.3 L304,1116 L304.5,1116.6 L305,1117 L305.5,1117.2 L306,1117.4 L306.5,1117.6 L307,1117.7 L307.5,1117.7 L308,1117.7 L308.5,1117.8 L309,1117.8 L309.5,1117.8 L310,1117.8 L310.5,1117.8 L311,1117.8 L311.5,1117.8 L312,1117.8 L312.5,1117.8 L313,1117.8 L313.5,1117.8 L314,1117.8 L314.5,1117.8 L315,1117.8 L315.5,1117.8 L316,1117.8 L316.5,1117.8 L317,1117.8 L317.5,1117.8 L318,1117.8 L318.5,1117.8 L319,1117.8 L319.5,1117.8 L320,1117.8 L320.5,1117.8 L321,1117.8 L321.5,1117.8 L322,1117.8 L322.5,1117.8 L323,1117.8 L323.5,1117.8 L324,1117.8 L324.5,1117.8 L325,1117.8 L325.5,1117.8 L326,1117.8 L326.5,1117.8 L327,1117.8 L327.5,1117.8 L328,1117.8 L328.5,1117.8 L329,1117.8 L329.5,1117.8 L330,1117.8 L330.5,1117.8 L331,1117.8 L331.5,1117.8 L332,1117.8 L332.5,1117.8 L333,1117.8 L333.5,1117.8 L334,1117.8 L334.5,1117.8 L335,1117.8 L335.5,1117.8 L336,1117.8 L336.5,1117.8 L337,1117.8" fill="none" stroke="#f07a3c" stroke-width="2.9" stroke-linejoin="round" stroke-linecap="round"/>
<path d="M81.9,1050.1C83.8,1048.5 85.8,1046.2 87.7,1045.3C90.9,1043.9 94.1,1044.8 97.3,1043.3C99.6,1042.2 101.8,1037.6 104.1,1037.6C107.3,1037.6 110.5,1047.2 113.7,1047.2C117.2,1047.2 120.8,1029.9 124.3,1029.9C126.9,1029.9 129.4,1036.6 132,1040.4C134.2,1043.7 136.5,1051 138.7,1051C141.6,1051 144.5,1051 147.4,1050.1C149.7,1049.4 151.9,1050.1 154.2,1046.2C157.7,1040.2 161.2,1017.3 164.7,1017.3C167.6,1017.3 170.5,1056.8 173.4,1056.8C176.3,1056.8 179.2,1038.5 182.1,1038.5C183.7,1038.5 185.3,1038.5 186.9,1039.5C188.2,1040.3 189.4,1045.6 190.7,1050.1C192.2,1055.5 193.7,1069.3 195.2,1069.3C196.6,1069.3 198,1046.5 199.4,1038.5C201,1029.6 202.5,1018.7 204.1,1018.7C206.2,1018.7 208.3,1033.3 210.4,1037.3C213.5,1043.3 216.6,1048.7 219.7,1048.7C221.8,1048.7 223.8,1037.3 225.9,1037.3C228.3,1037.3 230.8,1042.5 233.2,1042.5C236,1042.5 238.7,1035.3 241.5,1035.3C245,1035.3 248.4,1051.9 251.9,1051.9C254.3,1051.9 256.7,1043.6 259.1,1043.6C261.5,1043.6 264,1046.7 266.4,1046.7C268.8,1046.7 271.2,1039.4 273.6,1039.4C276.7,1039.4 279.9,1051.9 283,1051.9C284.4,1051.9 285.7,1049.8 287.1,1049.8C289.9,1049.8 292.6,1057 295.4,1057C299.2,1057 303,1032.2 306.8,1032.2C309.9,1032.2 313.1,1036.5 316.2,1039.4C319,1042 321.7,1046.2 324.5,1048.7C327.6,1051.4 330.7,1055 333.8,1055C334.8,1055 335.9,1054.3 336.9,1053.9" fill="none" stroke="#b9b9b9" stroke-width="2.9" stroke-linejoin="round" stroke-linecap="round" />
<path d="M81.9,1117.9C84.5,1117.1 87,1117.9 89.6,1115.6C91.5,1113.9 93.5,1106.1 95.4,1102.1C97,1098.7 98.6,1093.4 100.2,1093.4C101.8,1093.4 103.4,1097.3 105,1097.3C106.6,1097.3 108.3,1093.4 109.9,1093.4C112.1,1093.4 114.4,1104 116.6,1104C119.8,1104 123,1076.1 126.2,1076.1C129.4,1076.1 132.7,1087.6 135.9,1087.6C139.7,1087.6 143.6,1075.1 147.4,1075.1C150,1075.1 152.5,1082.8 155.1,1082.8C158,1082.8 160.9,1058.7 163.8,1058.7C166.7,1058.7 169.5,1078 172.4,1078C175,1078 177.6,1057.8 180.2,1057.8C181.8,1057.8 183.4,1076.8 185,1084.7C186.6,1092.6 188.2,1105 189.8,1105C191.4,1105 193,1094.4 194.6,1094.4C196.4,1094.4 198.2,1099.6 200,1099.6C201.5,1099.6 203,1096.6 204.5,1095.5C205.4,1094.8 206.4,1094.4 207.3,1094.4C208.2,1094.4 209.1,1098.3 210,1101C210.8,1103.4 211.6,1107.5 212.4,1109.9C213.3,1112.5 214.1,1114.6 215,1116C215.9,1117.4 216.7,1118.2 217.6,1118.2C223.1,1118.2 228.5,1118.2 234,1118.2C235.2,1118.2 236.3,1116.6 237.5,1114.5C238.5,1112.7 239.5,1109.4 240.5,1106.5C241.3,1104.1 242.2,1100.5 243,1098.5C243.9,1096.4 244.7,1094.4 245.6,1094.4C246.5,1094.4 247.3,1096.4 248.2,1098.5C249,1100.5 249.9,1104.1 250.7,1106.5C251.7,1109.4 252.7,1112.6 253.7,1114.5C254.8,1116.5 255.9,1118.2 257,1118.2C261.2,1118.2 265.3,1118.2 269.5,1118.2C271.2,1118.2 273,1103 274.7,1095.4C276.4,1087.8 278.2,1072.6 279.9,1072.6C282.3,1072.6 284.7,1077.8 287.1,1077.8C288.8,1077.8 290.6,1074.5 292.3,1072.6C294.4,1070.3 296.4,1065.3 298.5,1065.3C300.2,1065.3 302,1084.2 303.7,1093.3C304.8,1099.1 305.9,1105.6 307,1110C308,1113.9 308.9,1118.2 309.9,1118.2C310.9,1118.2 312,1117.7 313,1116C314.1,1114.3 315.1,1111.3 316.2,1107.9C317.3,1104.3 318.4,1098.9 319.5,1095C320.3,1092.1 321.2,1089.3 322,1087.5C322.8,1085.7 323.7,1084 324.5,1084C325.3,1084 326.2,1085.4 327,1087.5C328.2,1090.6 329.5,1095.6 330.7,1099.6C332.1,1104.1 333.4,1113 334.8,1113C335.5,1113 336.2,1112.3 336.9,1112" fill="none" stroke="#1b7be0" stroke-width="2.9" stroke-linejoin="round" stroke-linecap="round" />
<path d="M378,1117.9C378.2,1117.9 378.3,1117.9 378.5,1117.9C378.7,1117.8 378.8,1117.8 379,1117.8C379.2,1117.8 379.3,1117.8 379.5,1117.8C379.7,1117.8 379.8,1117.7 380,1117.7C380.2,1117.7 380.3,1117.7 380.5,1117.6C380.7,1117.6 380.8,1117.5 381,1117.5C381.2,1117.4 381.3,1117.4 381.5,1117.3C381.7,1117.2 381.8,1117.1 382,1117C382.2,1116.9 382.3,1116.8 382.5,1116.6C382.7,1116.5 382.8,1116.3 383,1116.1C383.2,1116 383.3,1115.8 383.5,1115.5C383.7,1115.3 383.8,1115 384,1114.7C384.2,1114.4 384.3,1114.1 384.5,1113.7C384.7,1113.4 384.8,1113 385,1112.6C385.2,1112.1 385.3,1111.7 385.5,1111.2C385.7,1110.7 385.8,1110.2 386,1109.6C386.2,1109.1 386.3,1108.5 386.5,1107.9C386.7,1107.3 386.8,1106.6 387,1106C387.2,1105.4 387.3,1104.7 387.5,1104C387.7,1103.4 387.8,1102.7 388,1102.1C388.2,1101.4 388.3,1100.8 388.5,1100.2C388.7,1099.6 388.8,1098.9 389,1098.4C389.2,1097.9 389.3,1097.3 389.5,1096.9C389.7,1096.4 389.8,1096 390,1095.7C390.2,1095.3 390.3,1095 390.5,1094.8C390.7,1094.6 390.8,1094.4 391,1094.4C391.2,1094.4 391.3,1094.4 391.5,1094.5C391.7,1094.5 391.8,1094.7 392,1095C392.2,1095.2 392.3,1095.5 392.5,1095.9C392.7,1096.2 392.8,1096.7 393,1097.2C393.2,1097.6 393.3,1098.2 393.5,1098.7C393.7,1099.3 393.8,1099.9 394,1100.5C394.2,1101.2 394.3,1101.8 394.5,1102.5C394.7,1103.1 394.8,1103.8 395,1104.4C395.2,1105.1 395.3,1105.8 395.5,1106.4C395.7,1107 395.8,1107.6 396,1108.2C396.2,1108.8 396.3,1109.4 396.5,1109.9C396.7,1110.5 396.8,1111 397,1111.5C397.2,1112 397.3,1112.4 397.5,1112.8C397.7,1113.2 397.8,1113.6 398,1114C398.2,1114.3 398.3,1114.6 398.5,1114.9C398.7,1115.2 398.8,1115.4 399,1115.7C399.2,1115.9 399.3,1116.1 399.5,1116.3C399.7,1116.4 399.8,1116.6 400,1116.7C400.2,1116.9 400.3,1117 400.5,1117.1C400.7,1117.2 400.8,1117.2 401,1117.3C401.2,1117.4 401.3,1117.5 401.5,1117.5C401.7,1117.6 401.8,1117.6 402,1117.6C402.2,1117.7 402.3,1117.7 402.5,1117.7C402.7,1117.8 402.8,1117.8 403,1117.8C403.2,1117.8 403.3,1117.8 403.5,1117.8C403.7,1117.8 403.8,1117.9 404,1117.9C404.2,1117.9 404.3,1117.9 404.5,1117.9C404.7,1117.9 404.8,1117.9 405,1117.9C405.2,1117.9 405.3,1117.9 405.5,1117.9C405.7,1117.9 405.8,1117.9 406,1117.9C406.2,1117.9 406.3,1117.9 406.5,1117.9C406.7,1117.9 406.8,1117.9 407,1117.9C407.2,1117.9 407.3,1117.9 407.5,1117.9C407.7,1117.9 407.8,1117.9 408,1117.9C408.2,1117.9 408.3,1117.9 408.5,1117.9C408.7,1117.9 408.8,1117.9 409,1117.9C409.2,1117.9 409.3,1117.9 409.5,1117.9C409.7,1117.9 409.8,1117.9 410,1117.9C410.2,1117.9 410.3,1117.9 410.5,1117.9C410.7,1117.9 410.8,1117.9 411,1117.9C411.2,1117.9 411.3,1117.9 411.5,1117.9C411.7,1117.9 411.8,1117.9 412,1117.9C412.2,1117.9 412.3,1117.9 412.5,1117.8C412.7,1117.8 412.8,1117.8 413,1117.8C413.2,1117.8 413.3,1117.8 413.5,1117.8C413.7,1117.7 413.8,1117.7 414,1117.7C414.2,1117.6 414.3,1117.6 414.5,1117.6C414.7,1117.5 414.8,1117.5 415,1117.4C415.2,1117.3 415.3,1117.3 415.5,1117.2C415.7,1117.1 415.8,1117 416,1116.9C416.2,1116.7 416.3,1116.6 416.5,1116.5C416.7,1116.3 416.8,1116.1 417,1115.9C417.2,1115.7 417.3,1115.5 417.5,1115.2C417.7,1115 417.8,1114.7 418,1114.4C418.2,1114 418.3,1113.7 418.5,1113.3C418.7,1112.9 418.8,1112.5 419,1112C419.2,1111.6 419.3,1111.1 419.5,1110.6C419.7,1110.1 419.8,1109.5 420,1108.9C420.2,1108.4 420.3,1107.8 420.5,1107.1C420.7,1106.5 420.8,1105.9 421,1105.2C421.2,1104.6 421.3,1103.9 421.5,1103.3C421.7,1102.6 421.8,1101.9 422,1101.3C422.2,1100.7 422.3,1100 422.5,1099.4C422.7,1098.8 422.8,1098.3 423,1097.8C423.2,1097.2 423.3,1096.8 423.5,1096.4C423.7,1095.9 423.8,1095.6 424,1095.3C424.2,1095 424.3,1094.8 424.5,1094.6C424.7,1094.5 424.8,1094.4 425,1094.4C425.2,1094.4 425.3,1094.5 425.5,1094.6C425.7,1094.8 425.8,1095 426,1095.3C426.2,1095.6 426.3,1095.9 426.5,1096.4C426.7,1096.8 426.8,1097.2 427,1097.8C427.2,1098.3 427.3,1098.8 427.5,1099.4C427.7,1100 427.8,1100.7 428,1101.3C428.2,1101.9 428.3,1102.6 428.5,1103.3C428.7,1103.9 428.8,1104.6 429,1105.2C429.2,1105.9 429.3,1106.5 429.5,1107.1C429.7,1107.8 429.8,1108.4 430,1108.9C430.2,1109.5 430.3,1110.1 430.5,1110.6C430.7,1111.1 430.8,1111.6 431,1112C431.2,1112.5 431.3,1112.9 431.5,1113.3C431.7,1113.7 431.8,1114 432,1114.4C432.2,1114.7 432.3,1115 432.5,1115.2C432.7,1115.5 432.8,1115.7 433,1115.9C433.2,1116.1 433.3,1116.3 433.5,1116.5C433.7,1116.6 433.8,1116.7 434,1116.9C434.2,1117 434.3,1117.1 434.5,1117.2C434.7,1117.3 434.8,1117.3 435,1117.4C435.2,1117.5 435.3,1117.5 435.5,1117.6C435.7,1117.6 435.8,1117.6 436,1117.7C436.2,1117.7 436.3,1117.7 436.5,1117.8C436.7,1117.8 436.8,1117.8 437,1117.8C437.2,1117.8 437.3,1117.8 437.5,1117.8C437.7,1117.9 437.8,1117.9 438,1117.9C438.2,1117.9 438.3,1117.9 438.5,1117.9C438.7,1117.9 438.8,1117.9 439,1117.9C439.2,1117.9 439.3,1117.9 439.5,1117.9C439.7,1117.9 439.8,1117.9 440,1117.9C440.2,1117.9 440.3,1117.9 440.5,1117.9C440.7,1117.9 440.8,1117.9 441,1117.9C441.2,1117.9 441.3,1117.9 441.5,1117.9C441.7,1117.9 441.8,1117.9 442,1117.9C442.2,1117.9 442.3,1117.9 442.5,1117.9C442.7,1117.9 442.8,1117.9 443,1117.9C443.2,1117.9 443.3,1117.9 443.5,1117.9C443.7,1117.9 443.8,1117.9 444,1117.9C444.2,1117.9 444.3,1117.9 444.5,1117.9C444.7,1117.9 444.8,1117.9 445,1117.9C445.2,1117.9 445.3,1117.9 445.5,1117.9C445.7,1117.9 445.8,1117.9 446,1117.9C446.2,1117.9 446.3,1117.9 446.5,1117.9C446.7,1117.9 446.8,1117.9 447,1117.9C447.2,1117.9 447.3,1117.9 447.5,1117.9C447.7,1117.9 447.8,1117.9 448,1117.9C448.2,1117.9 448.3,1117.9 448.5,1117.9C448.7,1117.9 448.8,1117.9 449,1117.9C449.3,1117.9 449.7,1117.9 450,1117.9C451.1,1117.9 452.2,1117.9 453.3,1116.7C454.8,1115.1 456.3,1108 457.8,1104.4C459.6,1100 461.5,1092.9 463.3,1092.9C464.4,1092.9 465.6,1094.4 466.7,1094.4C468.5,1094.4 470.4,1090.7 472.2,1090.7C473.7,1090.7 475.2,1090.7 476.7,1091.1C478.5,1091.6 480.4,1093.3 482.2,1093.3C484.8,1093.3 487.4,1092.2 490,1092.2C491.5,1092.2 492.9,1100.4 494.4,1104.4C495.9,1108.5 497.4,1115 498.9,1116.7C499.9,1117.9 501,1117.9 502,1117.9C503.3,1117.9 504.7,1117.9 506,1117.9" fill="none" stroke="#000" stroke-width="2.9" stroke-linejoin="round" stroke-linecap="round" />
<path d="M476,1117.9C485,1117.9 494,1117.9 503,1117.9" fill="none" stroke="#f07a3c" stroke-width="2.9" stroke-linejoin="round" stroke-linecap="round" />
<path d="M378,1117.9 L378.5,1117.9 L379,1117.9 L379.5,1117.9 L380,1117.9 L380.5,1117.9 L381,1117.9 L381.5,1117.9 L382,1117.9 L382.5,1117.9 L383,1117.9 L383.5,1117.9 L384,1117.9 L384.5,1117.9 L385,1117.9 L385.5,1117.9 L386,1117.9 L386.5,1117.9 L387,1117.9 L387.5,1117.9 L388,1117.9 L388.5,1117.9 L389,1117.9 L389.5,1117.9 L390,1117.9 L390.5,1117.9 L391,1117.9 L391.5,1117.9 L392,1117.9 L392.5,1117.9 L393,1117.9 L393.5,1117.9 L394,1117.9 L394.5,1117.9 L395,1117.9 L395.5,1117.9 L396,1117.9 L396.5,1117.9 L397,1117.9 L397.5,1117.9 L398,1117.9 L398.5,1117.9 L399,1117.9 L399.5,1117.9 L400,1117.9 L400.5,1117.9 L401,1117.9 L401.5,1117.9 L402,1117.9 L402.5,1117.9 L403,1117.9 L403.5,1117.9 L404,1117.9 L404.5,1117.9 L405,1117.9 L405.5,1117.9 L406,1117.9 L406.5,1117.9 L407,1117.9 L407.5,1117.9 L408,1117.9 L408.5,1117.9 L409,1117.9 L409.5,1117.9 L410,1117.9 L410.5,1117.9 L411,1117.9 L411.5,1117.9 L412,1117.9 L412.5,1117.9 L413,1117.9 L413.5,1117.9 L414,1117.9 L414.5,1117.9 L415,1117.9 L415.5,1117.9 L416,1117.9 L416.5,1117.9 L417,1117.9 L417.5,1117.9 L418,1117.9 L418.5,1117.9 L419,1117.9 L419.5,1117.9 L420,1117.9 L420.5,1117.9 L421,1117.9 L421.5,1117.9 L422,1117.9 L422.5,1117.9 L423,1117.9 L423.5,1117.9 L424,1117.9 L424.5,1117.9 L425,1117.9 L425.5,1117.9 L426,1117.9 L426.5,1117.9 L427,1117.9 L427.5,1117.9 L428,1117.9 L428.5,1117.9 L429,1117.9 L429.5,1117.9 L430,1117.9 L430.5,1117.9 L431,1117.9 L431.5,1117.9 L432,1117.9 L432.5,1117.9 L433,1117.9 L433.5,1117.9 L434,1117.9 L434.5,1117.9 L435,1117.9 L435.5,1117.9 L436,1117.9 L436.5,1117.9 L437,1117.9 L437.5,1117.9 L438,1117.9 L438.5,1117.9 L439,1117.9 L439.5,1117.9 L440,1117.9 L440.5,1117.9 L441,1117.9 L441.5,1117.9 L442,1117.9 L442.5,1117.9 L443,1117.9 L443.5,1117.9 L444,1117.9 L444.5,1117.9 L445,1117.9 L445.5,1117.9 L446,1117.9 L446.5,1117.9 L447,1117.9 L447.5,1117.9 L448,1117.9 L448.5,1117.9 L449,1117.9 L449.5,1117.9 L450,1117.9 L450.5,1117.9 L451,1117.9 L451.5,1117.9 L452,1117.9 L452.5,1117.9 L453,1117.9 L453.5,1117.9 L454,1117.9 L454.5,1117.9 L455,1117.9 L455.5,1117.9 L456,1117.9 L456.5,1117.9 L457,1117.9 L457.5,1117.9 L458,1117.9 L458.5,1117.9 L459,1117.9 L459.5,1117.9 L460,1117.9 L460.5,1117.9 L461,1117.9 L461.5,1117.9 L462,1117.9 L462.5,1117.9 L463,1117.9 L463.5,1117.9 L464,1117.9 L464.5,1117.9 L465,1117.9 L465.5,1117.9 L466,1117.9 L466.5,1117.9 L467,1117.9 L467.5,1117.9 L468,1117.9 L468.5,1117.9 L469,1117.9 L469.5,1117.9 L470,1117.9 L470.5,1117.9 L471,1117.9 L471.5,1117.9 L472,1117.9 L472.5,1117.9 L473,1117.9 L473.5,1117.9 L474,1117.9 L474.5,1117.9 L475,1117.9 L475.5,1117.9 L476,1117.9 L476.5,1117.9 L477,1117.8 L477.5,1117.8 L478,1117.7 L478.5,1117.6 L479,1117.5 L479.5,1117.3 L480,1117 L480.5,1116.6 L481,1116.1 L481.5,1115.4 L482,1114.6 L482.5,1113.6 L483,1112.3 L483.5,1110.9 L484,1109.2 L484.5,1107.3 L485,1105.3 L485.5,1103.2 L486,1101 L486.5,1098.9 L487,1096.9 L487.5,1095.2 L488,1093.8 L488.5,1092.8 L489,1092.3 L489.5,1092.2 L490,1092.7 L490.5,1093.6 L491,1094.9 L491.5,1096.6 L492,1098.5 L492.5,1100.6 L493,1102.7 L493.5,1104.9 L494,1106.9 L494.5,1108.8 L495,1110.6 L495.5,1112.1 L496,1113.4 L496.5,1114.4 L497,1115.3 L497.5,1116 L498,1116.5 L498.5,1116.9 L499,1117.2 L499.5,1117.4 L500,1117.6 L500.5,1117.7 L501,1117.8 L501.5,1117.8 L502,1117.8 L502.5,1117.9 L503,1117.9 L503.5,1117.9 L504,1117.9 L504.5,1117.9 L505,1117.9 L505.5,1117.9 L506,1117.9 L506.5,1117.9 L507,1117.9 L507.5,1117.9 L508,1117.9 L508.5,1117.9 L509,1117.9 L509.5,1117.9 L510,1117.9 L510.5,1117.9 L511,1117.9 L511.5,1117.9 L512,1117.9 L512.5,1117.9 L513,1117.9 L513.5,1117.9 L514,1117.9 L514.5,1117.9 L515,1117.9 L515.5,1117.9 L516,1117.9 L516.5,1117.9 L517,1117.9 L517.5,1117.9 L518,1117.9 L518.5,1117.9 L519,1117.9 L519.5,1117.9 L520,1117.9 L520.5,1117.9 L521,1117.9 L521.5,1117.9 L522,1117.9 L522.5,1117.9 L523,1117.9 L523.5,1117.9 L524,1117.9 L524.5,1117.9 L525,1117.9 L525.5,1117.9 L526,1117.9 L526.5,1117.9 L527,1117.9 L527.5,1117.9 L528,1117.9 L528.5,1117.9 L529,1117.9 L529.5,1117.9 L530,1117.9 L530.5,1117.9 L531,1117.9 L531.5,1117.9 L532,1117.9 L532.5,1117.9 L533,1117.9 L533.5,1117.9 L534,1117.9 L534.5,1117.9 L535,1117.9 L535.5,1117.9 L536,1117.9 L536.5,1117.9 L537,1117.9 L537.5,1117.9 L538,1117.9 L538.5,1117.9 L539,1117.9 L539.5,1117.9 L540,1117.9 L540.5,1117.9 L541,1117.9 L541.5,1117.9 L542,1117.9 L542.5,1117.9 L543,1117.9 L543.5,1117.9 L544,1117.9 L544.5,1117.9 L545,1117.9 L545.5,1117.9 L546,1117.9 L546.5,1117.9 L547,1117.9 L547.5,1117.9 L548,1117.9 L548.5,1117.9 L549,1117.9 L549.5,1117.9 L550,1117.9 L550.5,1117.9 L551,1117.9 L551.5,1117.9 L552,1117.9 L552.5,1117.9 L553,1117.9 L553.5,1117.9 L554,1117.9 L554.5,1117.9 L555,1117.9 L555.5,1117.9 L556,1117.9 L556.5,1117.9 L557,1117.9 L557.5,1117.9 L558,1117.9 L558.5,1117.9 L559,1117.9 L559.5,1117.9 L560,1117.9 L560.5,1117.9 L561,1117.9 L561.5,1117.9 L562,1117.9 L562.5,1117.9 L563,1117.9 L563.5,1117.9 L564,1117.9 L564.5,1117.9 L565,1117.9 L565.5,1117.9 L566,1117.9 L566.5,1117.9 L567,1117.9 L567.5,1117.9 L568,1117.9 L568.5,1117.9 L569,1117.9 L569.5,1117.9 L570,1117.9 L570.5,1117.9 L571,1117.9 L571.5,1117.9 L572,1117.9 L572.5,1117.9 L573,1117.9 L573.5,1117.9 L574,1117.9 L574.5,1117.9 L575,1117.9 L575.5,1117.9 L576,1117.9 L576.5,1117.9 L577,1117.9 L577.5,1117.9 L578,1117.9 L578.5,1117.9 L579,1117.9 L579.5,1117.9 L580,1117.9 L580.5,1117.9 L581,1117.9 L581.5,1117.9 L582,1117.9 L582.5,1117.9 L583,1117.9 L583.5,1117.9 L584,1117.9 L584.5,1117.9 L585,1117.9 L585.5,1117.9 L586,1117.9 L586.5,1117.9 L587,1117.9 L587.5,1117.9 L588,1117.9 L588.5,1117.9 L589,1117.9 L589.5,1117.9 L590,1117.9 L590.5,1117.9 L591,1117.9 L591.5,1117.9 L592,1117.9 L592.5,1117.9 L593,1117.9 L593.5,1117.9 L594,1117.9 L594.5,1117.9 L595,1117.9 L595.5,1117.9 L596,1117.9 L596.5,1117.9 L597,1117.9 L597.5,1117.9 L598,1117.9 L598.5,1117.9 L599,1117.9 L599.5,1117.9 L600,1117.9 L600.5,1117.9 L601,1117.9 L601.5,1117.9 L602,1117.9 L602.5,1117.9 L603,1117.9 L603.5,1117.9 L604,1117.9 L604.5,1117.9 L605,1117.9 L605.5,1117.9 L606,1117.9 L606.5,1117.9 L607,1117.9 L607.5,1117.9 L608,1117.9 L608.5,1117.9 L609,1117.9 L609.5,1117.9 L610,1117.9 L610.5,1117.9 L611,1117.9 L611.5,1117.9 L612,1117.9 L612.5,1117.9 L613,1117.9 L613.5,1117.9 L614,1117.9 L614.5,1117.9 L615,1117.9 L615.5,1117.9 L616,1117.9 L616.5,1117.9 L617,1117.9 L617.5,1117.9 L618,1117.9 L618.5,1117.9 L619,1117.9 L619.5,1117.9 L620,1117.9 L620.5,1117.9 L621,1117.9 L621.5,1117.9 L622,1117.9 L622.5,1117.9 L623,1117.9 L623.5,1117.9 L624,1117.9 L624.5,1117.9 L625,1117.9 L625.5,1117.9 L626,1117.9 L626.5,1117.9 L627,1117.9 L627.5,1117.9 L628,1117.9 L628.5,1117.9 L629,1117.9 L629.5,1117.9 L630,1117.9 L630.5,1117.9 L631,1117.9 L631.5,1117.9 L632,1117.9 L632.5,1117.9 L633,1117.9" fill="none" stroke="#b9b9b9" stroke-width="2.9" stroke-linejoin="round" stroke-linecap="round"/>
<path d="M378,1117.9C408.7,1117.9 439.3,1117.9 470,1117.9C471.5,1117.9 472.9,1111.7 474.4,1106.7C475.9,1101.6 477.4,1092.2 478.9,1087.8C480.4,1083.5 481.8,1080.7 483.3,1080.7C484.4,1080.7 485.6,1083.2 486.7,1084.4C487.8,1085.6 488.9,1087.8 490,1087.8C491.9,1087.8 493.7,1085.1 495.6,1082.2C497.1,1079.9 498.5,1075.3 500,1072.2C502.2,1067.5 504.5,1058.9 506.7,1058.9C508.2,1058.9 509.6,1061.9 511.1,1064.4C513,1067.6 514.8,1076 516.7,1076C519.3,1076 521.8,1070 524.4,1070C526.6,1070 528.9,1072.7 531.1,1073.3C534.1,1074.1 537,1073.8 540,1074.4C543,1075 545.9,1075.2 548.9,1076.7C551.1,1077.8 553.4,1082.2 555.6,1082.2C557.4,1082.2 559.3,1081.1 561.1,1081.1C562.6,1081.1 564.1,1086.6 565.6,1091.1C566.7,1094.4 567.8,1100.7 568.9,1104.4C570.4,1109.3 571.8,1115.3 573.3,1116.7C574.5,1117.9 575.8,1117.9 577,1117.9C592.3,1117.9 607.7,1117.9 623,1117.9C624.3,1117.9 625.7,1113.4 627,1110C628,1107.4 629,1102.9 630,1100C630.7,1098 631.4,1096.9 632.1,1095.3" fill="none" stroke="#1b7be0" stroke-width="2.9" stroke-linejoin="round" stroke-linecap="round" />
<line x1="191.1" y1="517" x2="191.1" y2="784" stroke="#e0151a" stroke-width="2.6" />
<line x1="486.7" y1="517" x2="486.7" y2="784" stroke="#e0151a" stroke-width="2.6" />
<line x1="191.6" y1="855.5" x2="191.6" y2="1122.6" stroke="#e0151a" stroke-width="2.6" />
<line x1="486.7" y1="855.5" x2="486.7" y2="1122.6" stroke="#e0151a" stroke-width="2.6" />
</svg>
</body></html>
